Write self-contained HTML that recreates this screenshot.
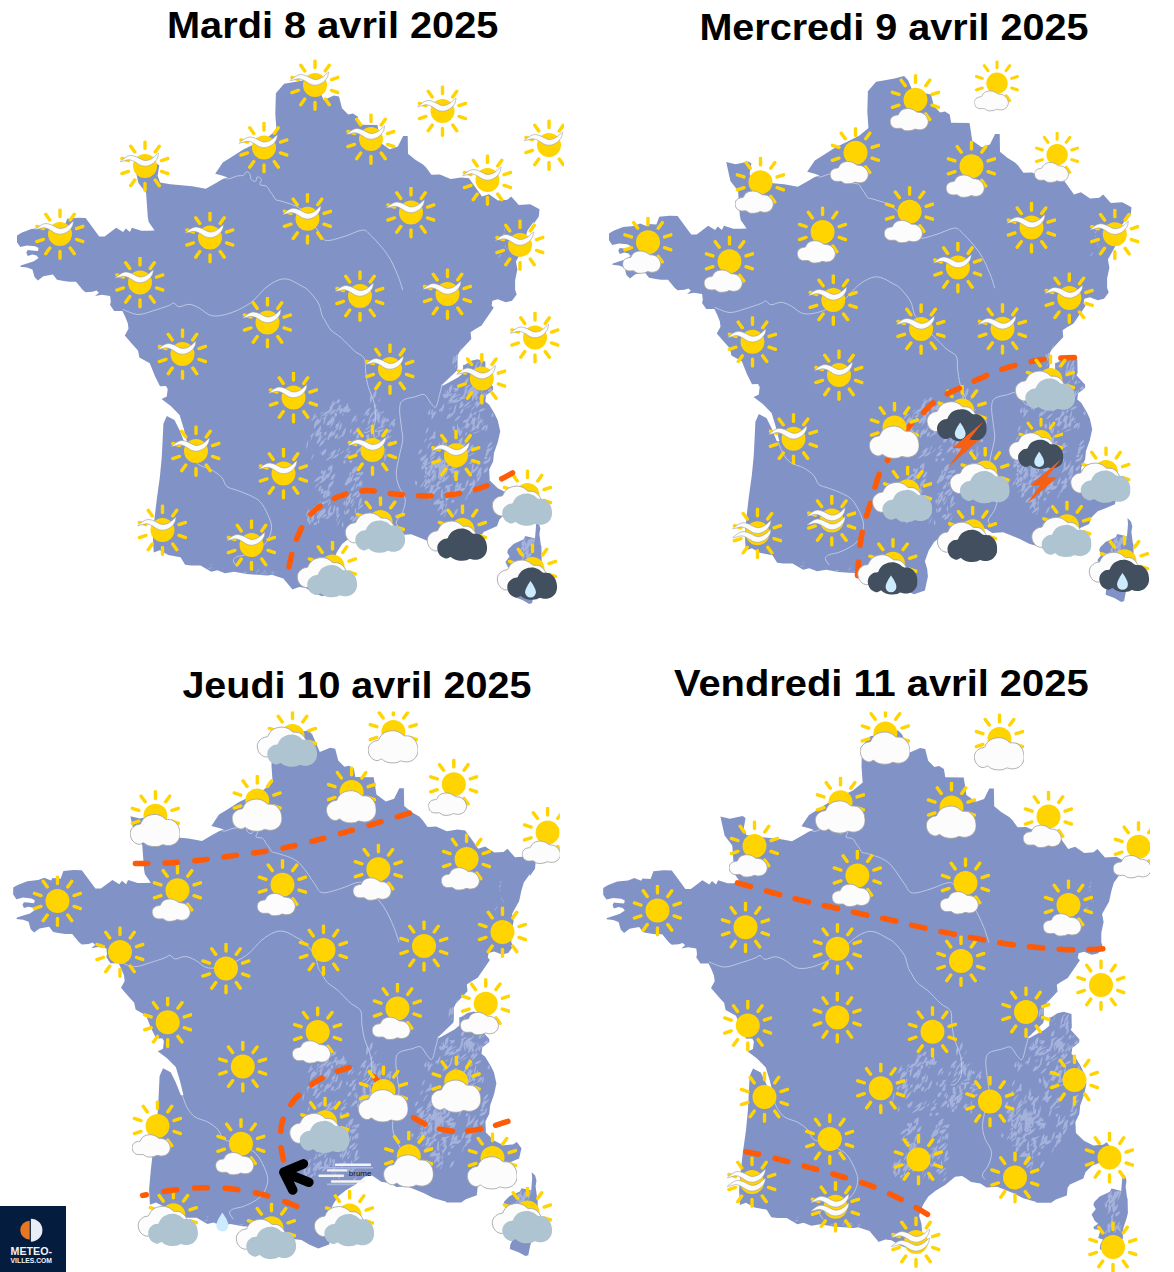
<!DOCTYPE html><html lang="fr"><head><meta charset="utf-8"><title>Prévisions</title><style>html,body{margin:0;padding:0;background:#fff}svg{display:block}text{font-family:"Liberation Sans",Arial,sans-serif}</style></head><body><svg width="1174" height="1272" viewBox="0 0 1174 1272"><defs><clipPath id="ci"><rect x="-25.5" y="-25.5" width="50" height="62"/></clipPath><clipPath id="cw"><rect x="-37" y="-25.5" width="61.5" height="62"/></clipPath><g id="fr"><path d="M868.5 128.1 L859.1 135.7 L847.2 141.7 L835.3 147.6 L821.6 156.2 L814.8 160.4 L807.2 171.8 L814.8 173.7 L819.6 175.4 L814.8 177.1 L808.0 180.9 L797.8 186.8 L784.2 184.3 L762.4 182.3 L752.1 180.6 L749.6 173.8 L751.3 163.6 L751.8 163.8 L748.4 161.6 L735.6 164.3 L726.2 162.1 L730.4 180.9 L738.1 191.1 L739.8 215.0 L740.7 220.1 L746.6 228.6 L740.3 228.7 L733.4 228.7 L723.9 225.7 L721.9 230.0 L717.8 226.6 L715.1 230.0 L708.2 225.7 L696.7 234.4 L691.2 234.4 L677.6 216.1 L669.4 215.7 L659.2 216.7 L656.4 224.6 L648.3 223.9 L646.9 226.2 L640.1 223.5 L634.0 225.9 L623.1 227.0 L613.5 230.7 L609.0 233.4 L609.0 240.3 L612.2 245.0 L619.0 243.4 L627.1 244.3 L630.6 246.1 L629.9 249.1 L623.7 248.4 L619.7 248.0 L618.3 250.5 L619.7 253.9 L624.4 252.5 L628.5 253.5 L630.6 255.9 L625.8 259.3 L619.0 261.4 L612.8 263.4 L612.2 264.8 L619.0 265.5 L624.4 267.5 L626.5 275.0 L629.9 278.4 L635.3 274.3 L644.9 272.6 L649.0 277.7 L655.8 279.1 L661.2 279.8 L668.0 279.8 L674.8 288.0 L677.6 290.3 L684.4 289.7 L688.5 288.4 L690.9 290.7 L687.1 294.1 L693.9 292.7 L702.1 294.1 L702.8 299.5 L702.1 302.9 L706.2 309.1 L714.4 309.1 L717.1 314.5 L719.8 321.3 L720.5 326.8 L716.8 333.6 L723.9 341.8 L730.0 348.6 L731.4 355.4 L741.8 361.3 L746.9 374.1 L752.0 384.3 L758.0 384.0 L759.7 386.9 L758.8 394.5 L753.7 397.1 L752.5 396.2 L762.8 404.1 L771.6 412.9 L775.5 425.7 L779.3 441.0 L776.7 441.0 L771.6 428.3 L766.5 418.0 L758.8 414.1 L755.4 421.8 L754.6 438.8 L753.7 455.9 L751.8 475.4 L748.8 496.9 L746.5 516.8 L744.9 535.2 L745.7 550.6 L751.8 548.3 L760.3 552.9 L772.5 555.2 L777.1 562.8 L783.3 563.6 L792.5 563.6 L803.2 569.7 L809.3 568.2 L817.0 571.3 L826.2 569.7 L838.5 572.0 L849.2 572.8 L859.9 573.6 L863.8 572.8 L875.3 576.6 L884.5 587.4 L884.2 587.4 L891.1 585.1 L897.3 585.8 L904.9 590.4 L914.1 594.3 L924.9 590.4 L927.9 576.6 L927.2 569.0 L924.9 561.3 L928.7 550.6 L934.1 542.1 L941.7 536.0 L950.9 530.6 L960.9 522.2 L967.8 521.4 L971.6 523.7 L977.0 527.6 L986.2 529.1 L992.3 532.9 L1003.1 532.2 L1010.7 535.2 L1019.9 539.1 L1029.1 543.7 L1042.2 547.5 L1042.0 548.2 L1056.9 548.2 L1061.6 545.0 L1072.6 541.1 L1073.4 533.3 L1075.7 530.1 L1089.1 523.9 L1091.4 517.6 L1097.7 511.3 L1105.5 508.2 L1114.9 504.3 L1117.3 494.1 L1112.6 487.8 L1108.7 490.2 L1099.2 491.0 L1089.8 486.3 L1081.7 478.4 L1081.2 467.4 L1085.1 459.6 L1085.9 451.8 L1085.9 451.3 L1089.8 440.3 L1092.2 429.3 L1089.8 418.4 L1086.7 412.1 L1081.2 402.7 L1077.3 399.5 L1078.1 393.3 L1081.2 390.9 L1085.1 387.8 L1085.1 384.7 L1076.5 375.2 L1077.6 372.9 L1077.3 359.6 L1069.5 357.2 L1063.2 358.8 L1056.9 362.7 L1055.1 363.0 L1055.1 371.2 L1050.3 375.3 L1035.3 383.5 L1033.3 383.5 L1049.0 368.5 L1049.6 365.8 L1049.6 353.5 L1051.7 349.4 L1063.3 337.1 L1062.6 330.3 L1066.7 327.6 L1073.5 323.5 L1085.7 305.8 L1083.6 303.4 L1084.4 298.7 L1089.8 297.2 L1097.7 300.3 L1104.0 298.7 L1108.7 292.5 L1107.1 287.8 L1107.1 278.4 L1109.4 267.4 L1107.9 259.5 L1114.9 247.0 L1117.3 236.0 L1119.6 228.2 L1125.9 219.6 L1125.4 222.2 L1130.8 214.5 L1131.5 207.2 L1122.3 202.3 L1110.8 203.0 L1103.2 194.6 L1099.3 197.7 L1090.1 198.4 L1080.9 192.3 L1074.0 194.6 L1067.9 185.9 L1061.0 176.2 L1053.3 175.4 L1042.6 177.0 L1031.9 172.4 L1023.4 172.8 L1018.1 165.5 L1015.0 162.4 L1007.3 157.8 L1000.0 151.7 L999.7 134.0 L995.1 134.0 L989.9 144.5 L981.7 147.2 L972.2 140.4 L970.8 130.9 L969.5 123.0 L951.1 122.7 L949.7 114.5 L944.9 111.5 L940.2 112.5 L934.0 106.3 L934.8 109.4 L931.0 94.6 L925.9 93.5 L915.6 97.9 L908.1 80.2 L904.1 76.1 L894.5 78.4 L885.0 80.2 L876.1 81.8 L867.9 91.3 L867.3 111.8 L868.6 130.2ZM1127.5 518.0 L1130.9 521.4 L1132.3 526.2 L1131.4 532.0 L1132.8 542.7 L1133.4 544.2 L1133.7 558.4 L1132.2 564.6 L1129.0 574.0 L1128.7 583.4 L1126.0 591.3 L1124.1 601.0 L1121.2 601.9 L1114.4 598.1 L1105.6 594.7 L1106.1 590.3 L1108.7 585.0 L1104.0 583.4 L1106.3 575.6 L1100.0 574.8 L1099.2 572.5 L1104.0 569.3 L1100.5 566.2 L1097.4 559.9 L1101.6 554.4 L1099.2 550.5 L1100.0 547.4 L1105.5 541.9 L1115.7 537.2 L1117.3 534.1 L1127.5 536.4 L1127.0 535.9 L1128.0 524.3Z" fill="#8192c6"/><path d="M946.0 453.4q6.6 -4.1 6.9 -8.0q-3.8 1.0 -6.9 8.0zM951.6 449.9q1.8 -0.8 1.3 -3.4q-2.2 1.9 -1.3 3.4zM953.0 449.6q3.7 -4.0 4.7 -8.2q-2.5 2.0 -4.7 8.2zM961.6 449.5q4.9 -1.5 7.1 -8.3q-7.2 4.3 -7.1 8.3zM956.7 444.2q4.0 -1.0 2.7 -4.2q-4.4 1.5 -2.7 4.2zM956.7 447.5q1.9 -1.0 2.5 -3.9q-2.2 1.6 -2.5 3.9zM956.0 454.8q3.7 -2.1 3.8 -4.7q-3.1 1.4 -3.8 4.7zM924.9 433.9q3.1 -1.9 2.7 -5.9q-3.1 1.7 -2.7 5.9zM928.2 427.3q2.7 -3.2 4.3 -9.8q-3.9 6.0 -4.3 9.8zM921.2 426.5q3.9 -3.4 5.5 -8.6q-4.2 3.9 -5.5 8.6zM972.5 423.6q2.5 -1.0 4.2 -4.6q-3.4 1.9 -4.2 4.6zM973.4 425.4q3.3 -2.4 2.5 -7.8q-3.5 3.1 -2.5 7.8zM974.9 422.2q3.4 -1.0 2.8 -7.5q-4.4 3.6 -2.8 7.5zM927.0 415.1q3.5 -1.9 1.2 -4.9q-3.3 0.8 -1.2 4.9zM931.6 411.8q2.2 -0.1 2.1 -3.3q-3.0 1.4 -2.1 3.3zM931.7 412.4q4.3 -3.1 2.6 -7.0q-3.8 1.8 -2.6 7.0zM921.2 434.7q2.5 -1.0 3.6 -6.3q-2.8 1.6 -3.6 6.3zM923.7 422.8q4.0 -4.4 3.0 -8.8q-4.1 4.8 -3.0 8.8zM927.0 426.2q4.0 -0.7 4.4 -3.5q-3.8 0.6 -4.4 3.5zM919.8 438.2q2.4 -0.4 1.5 -3.3q-2.7 1.1 -1.5 3.3zM918.4 423.4q4.3 -1.0 5.5 -6.3q-5.1 1.9 -5.5 6.3zM921.7 423.1q4.6 -6.2 3.3 -9.5q-4.6 6.1 -3.3 9.5zM927.8 425.5q4.1 -1.4 2.6 -4.0q-3.5 0.5 -2.6 4.0zM958.4 439.4q3.6 -2.7 2.5 -5.2q-2.8 1.1 -2.5 5.2zM963.0 447.8q2.8 -1.1 1.0 -4.7q-3.1 2.4 -1.0 4.7zM958.0 457.8q3.1 -0.1 2.1 -4.3q-4.0 1.9 -2.1 4.3zM956.1 448.3q1.9 -2.5 2.6 -8.1q-2.6 4.6 -2.6 8.1zM962.3 445.5q6.6 -4.0 6.6 -8.3q-6.0 3.3 -6.6 8.3zM951.7 445.1q3.2 -3.3 1.7 -5.4q-2.6 1.6 -1.7 5.4zM959.7 446.7q3.7 -1.6 3.8 -5.4q-3.5 1.4 -3.8 5.4zM911.8 421.0q1.6 -2.8 2.4 -9.9q-2.2 5.1 -2.4 9.9zM909.9 422.2q1.9 -2.2 0.2 -6.3q-1.9 2.4 -0.2 6.3zM905.9 427.0q4.6 -4.6 3.6 -10.1q-4.0 2.9 -3.6 10.1zM915.6 423.1q2.7 -3.8 2.2 -10.7q-3.0 4.8 -2.2 10.7zM908.2 441.8q3.3 -0.4 5.0 -5.1q-3.9 1.0 -5.0 5.1zM910.9 444.8q4.3 -1.5 6.2 -7.6q-4.9 2.3 -6.2 7.6zM912.6 440.6q3.1 -1.1 8.3 -6.0q-3.8 1.6 -8.3 6.0zM902.6 439.5q2.0 -3.4 2.6 -8.6q-2.4 4.8 -2.6 8.6zM908.9 439.0q4.8 -2.2 6.9 -5.2q-3.1 0.9 -6.9 5.2zM908.3 434.9q5.8 -2.3 5.7 -5.5q-4.9 1.5 -5.7 5.5zM976.8 459.8q1.6 -2.2 0.4 -9.2q-1.8 5.8 -0.4 9.2zM971.5 454.0q2.4 -3.3 0.0 -4.7q-2.4 3.5 -0.0 4.7zM976.5 452.9q1.7 -4.5 1.1 -7.5q-1.4 2.7 -1.1 7.5zM977.1 457.2q2.2 -2.4 2.7 -6.1q-2.3 2.6 -2.7 6.1zM953.1 453.5q2.7 -1.3 1.4 -4.4q-2.5 0.8 -1.4 4.4zM961.3 454.6q2.0 -0.5 1.7 -4.0q-2.0 0.4 -1.7 4.0zM948.3 452.7q3.3 -2.3 3.5 -5.7q-3.1 2.0 -3.5 5.7zM985.3 425.2q3.2 -2.6 0.6 -5.6q-3.1 1.7 -0.6 5.6zM981.1 425.4q4.8 -5.5 4.8 -8.5q-4.4 4.8 -4.8 8.5zM985.9 419.9q2.2 -1.3 1.2 -3.4q-1.9 0.4 -1.2 3.4zM977.0 439.8q3.0 -5.0 3.5 -8.8q-1.9 2.1 -3.5 8.8zM976.8 437.6q3.0 -0.0 7.6 -4.0q-6.2 1.8 -7.6 4.0zM973.0 426.7q2.8 -0.7 4.5 -4.2q-3.4 1.3 -4.5 4.2zM980.3 430.4q3.7 0.1 3.2 -3.2q-4.0 0.2 -3.2 3.2zM970.0 435.3q3.3 -2.7 2.1 -7.5q-3.0 1.6 -2.1 7.5zM975.9 434.8q3.3 0.1 2.2 -3.1q-3.6 0.3 -2.2 3.1zM980.6 442.5q3.8 -0.6 2.4 -3.2q-3.4 -0.1 -2.4 3.2zM977.2 440.0q3.6 -4.8 4.0 -7.6q-2.5 2.7 -4.0 7.6zM973.4 440.6q1.1 -1.8 0.4 -3.9q-1.2 2.6 -0.4 3.9zM914.9 452.3q1.4 -1.5 1.4 -4.8q-1.3 1.1 -1.4 4.8zM903.5 458.2q2.6 -3.7 1.9 -6.7q-2.6 3.7 -1.9 6.7zM913.7 453.9q5.1 -2.5 4.6 -7.2q-4.6 1.8 -4.6 7.2zM911.7 452.5q3.2 -1.6 4.8 -4.5q-4.2 2.6 -4.8 4.5zM944.2 418.6q4.4 -1.6 4.5 -5.4q-4.0 1.2 -4.5 5.4zM943.2 421.4q4.6 -3.6 5.4 -8.1q-5.2 4.6 -5.4 8.1zM947.0 420.5q3.0 -2.3 2.5 -4.2q-2.8 2.0 -2.5 4.2zM960.1 440.0q2.6 -5.7 0.2 -8.2q-2.5 3.2 -0.2 8.2zM962.7 434.6q1.8 -1.5 1.9 -4.8q-1.6 1.0 -1.9 4.8zM965.1 434.4q1.6 -0.9 0.8 -4.0q-1.8 1.6 -0.8 4.0zM965.9 438.6q2.5 -0.7 0.6 -3.9q-2.6 1.0 -0.6 3.9zM963.4 444.4q3.6 -1.7 2.5 -5.3q-4.0 2.6 -2.5 5.3zM966.4 437.6q1.3 -5.3 -0.8 -7.8q-1.4 4.7 0.8 7.8zM958.2 413.9q2.7 0.1 3.2 -3.2q-2.2 -0.5 -3.2 3.2zM955.8 413.7q5.3 -2.0 7.1 -8.1q-4.7 1.3 -7.1 8.1zM961.8 415.9q2.4 -1.5 4.1 -6.2q-2.7 2.0 -4.1 6.2zM964.1 419.6q3.8 0.0 4.5 -3.1q-2.7 -0.8 -4.5 3.1zM969.7 429.4q4.6 0.5 6.4 -2.0q-5.2 -0.3 -6.4 2.0zM965.3 418.0q4.8 -2.4 6.3 -4.9q-3.6 1.4 -6.3 4.9zM976.8 430.5q3.7 2.0 6.9 -1.6q-3.1 -2.1 -6.9 1.6zM968.3 426.9q5.1 -0.2 7.2 -2.8q-3.3 -0.5 -7.2 2.8zM965.7 429.5q4.6 1.9 9.8 -0.7q-3.3 -2.0 -9.8 0.7zM966.6 429.3q1.7 0.1 2.7 -2.7q-2.5 0.7 -2.7 2.7zM963.8 421.3q3.1 -3.9 3.7 -7.8q-3.1 3.9 -3.7 7.8zM970.6 418.6q2.7 -3.4 1.5 -7.2q-2.8 3.9 -1.5 7.2zM965.9 413.3q4.5 -2.3 3.7 -6.9q-3.6 0.6 -3.7 6.9zM972.6 422.3q2.6 -2.8 3.6 -8.5q-2.2 1.7 -3.6 8.5zM970.1 420.1q3.0 -4.5 0.2 -10.0q-3.0 7.3 -0.2 10.0zM978.6 420.1q3.3 -0.5 1.5 -3.9q-3.4 0.6 -1.5 3.9zM971.3 422.0q1.3 -4.3 -1.5 -7.9q-1.6 2.7 1.5 7.9zM904.5 419.0q3.0 -2.3 3.2 -8.5q-3.8 4.3 -3.2 8.5zM906.8 423.5q4.4 0.1 6.5 -5.7q-3.9 -0.5 -6.5 5.7zM901.8 418.9q6.3 -2.9 7.9 -5.2q-2.9 0.6 -7.9 5.2zM931.1 408.8q2.6 -4.4 0.8 -6.6q-2.3 2.4 -0.8 6.6zM934.1 414.2q2.0 -1.1 1.9 -3.2q-2.0 1.2 -1.9 3.2zM934.5 410.3q4.3 -3.0 3.9 -6.9q-4.4 3.1 -3.9 6.9zM938.8 410.9q4.2 -0.9 3.7 -4.6q-4.7 1.6 -3.7 4.6zM927.2 410.1q3.4 -0.9 6.7 -7.2q-3.7 1.2 -6.7 7.2zM935.9 410.7q3.5 -0.9 2.3 -3.6q-3.6 1.0 -2.3 3.6zM939.1 411.2q3.0 -5.8 0.1 -10.4q-3.0 7.6 -0.1 10.4zM926.1 429.2q4.8 -2.2 5.7 -4.0q-4.7 2.2 -5.7 4.0zM931.6 429.2q3.3 -6.0 1.9 -8.9q-3.1 5.0 -1.9 8.9zM933.7 435.5q3.8 -2.5 4.5 -10.0q-4.2 3.2 -4.5 10.0zM957.0 447.5q3.4 -0.9 6.3 -3.9q-2.8 0.6 -6.3 3.9zM955.4 449.9q4.5 -1.4 4.0 -5.9q-4.2 0.9 -4.0 5.9zM957.7 452.6q3.0 0.1 3.3 -5.2q-4.3 1.9 -3.3 5.2zM955.7 451.7q2.6 -0.3 3.6 -5.2q-2.9 0.7 -3.6 5.2zM960.1 455.0q2.4 -1.7 3.8 -5.9q-3.7 3.7 -3.8 5.9zM954.5 447.2q5.0 -2.1 7.0 -6.2q-6.1 3.0 -7.0 6.2zM957.2 445.5q4.9 -5.0 4.8 -8.4q-2.8 1.3 -4.8 8.4zM949.9 442.7q2.3 -1.2 2.7 -5.4q-3.2 2.9 -2.7 5.4zM959.4 443.4q2.0 -0.3 2.0 -4.1q-2.6 1.6 -2.0 4.1zM970.9 452.2q3.3 -0.9 4.2 -2.6q-3.6 1.1 -4.2 2.6zM963.3 449.0q4.4 -1.8 2.7 -4.5q-3.2 -0.2 -2.7 4.5zM969.3 454.1q3.2 -0.4 3.4 -5.3q-3.9 1.4 -3.4 5.3zM960.0 420.5q2.2 -2.1 4.3 -9.9q-2.2 2.0 -4.3 9.9zM958.7 421.0q2.4 -0.3 7.1 -4.6q-3.1 0.8 -7.1 4.6zM956.8 428.7q5.3 -2.5 7.4 -6.0q-6.0 3.1 -7.4 6.0zM959.3 423.8q2.1 -1.2 3.6 -5.7q-3.5 3.4 -3.6 5.7zM953.6 421.8q3.8 -2.7 3.6 -5.3q-3.4 2.0 -3.6 5.3zM959.4 438.0q1.9 -3.9 -0.2 -5.7q-2.0 1.9 0.2 5.7zM965.0 439.9q3.2 -2.3 4.5 -6.3q-2.3 1.0 -4.5 6.3zM962.6 444.1q3.5 -1.5 3.8 -3.9q-3.4 1.4 -3.8 3.9zM917.2 459.0q6.8 -2.5 8.2 -5.8q-3.8 0.5 -8.2 5.8zM923.9 456.5q3.1 0.5 7.7 -4.8q-3.2 -0.5 -7.7 4.8zM923.0 451.9q4.7 -1.6 6.7 -4.3q-4.3 1.4 -6.7 4.3zM920.4 453.8q3.0 -1.1 7.9 -7.1q-5.4 3.3 -7.9 7.1zM922.2 456.4q3.6 -1.0 5.9 -8.3q-5.3 3.4 -5.9 8.3zM964.2 421.7q3.3 -3.1 3.1 -6.5q-3.8 4.0 -3.1 6.5zM971.1 412.7q4.8 -2.2 5.5 -4.3q-3.9 1.5 -5.5 4.3zM962.4 416.3q3.5 -4.1 4.7 -9.2q-4.5 6.1 -4.7 9.2zM967.9 414.3q3.7 -1.5 4.0 -5.4q-4.6 2.7 -4.0 5.4zM967.0 417.2q3.2 -1.1 3.7 -3.9q-2.4 0.3 -3.7 3.9zM935.7 462.0q3.0 -0.8 1.6 -4.1q-2.8 0.3 -1.6 4.1zM929.2 452.2q3.2 -4.9 3.1 -7.2q-2.3 2.8 -3.1 7.2zM932.4 452.5q1.9 -0.5 4.0 -4.4q-3.3 1.9 -4.0 4.4zM939.8 450.8q2.0 0.6 3.4 -2.1q-3.2 0.2 -3.4 2.1zM938.1 449.5q2.1 -0.6 4.0 -5.3q-3.2 2.0 -4.0 5.3zM936.1 456.5q5.9 -1.2 5.6 -4.7q-4.6 0.1 -5.6 4.7zM941.1 460.6q3.4 1.3 3.4 -2.3q-3.3 -1.4 -3.4 2.3zM929.3 437.5q3.0 -1.0 6.2 -5.7q-5.1 3.0 -6.2 5.7zM921.8 435.3q4.1 -1.2 3.3 -4.8q-3.5 0.4 -3.3 4.8zM916.0 433.6q3.1 -0.7 2.6 -4.0q-3.0 0.6 -2.6 4.0zM920.0 435.3q4.8 -3.8 4.4 -6.6q-4.4 3.2 -4.4 6.6zM919.6 436.6q3.9 -2.4 5.7 -6.8q-4.5 3.1 -5.7 6.8zM927.2 437.0q3.9 -1.8 2.4 -5.2q-3.9 2.0 -2.4 5.2zM947.7 431.7q4.3 -3.9 2.4 -6.7q-3.5 1.7 -2.4 6.7zM943.2 442.4q3.6 0.3 4.3 -5.0q-4.7 1.0 -4.3 5.0zM949.7 436.3q3.1 -1.0 0.5 -3.5q-3.2 1.9 -0.5 3.5zM944.9 432.8q3.8 -0.6 4.0 -4.5q-4.3 1.1 -4.0 4.5zM942.3 431.2q2.2 -0.7 1.2 -4.5q-2.6 2.5 -1.2 4.5zM947.8 429.2q2.6 -0.8 5.2 -4.8q-4.6 2.7 -5.2 4.8zM948.1 437.6q3.7 -3.1 3.7 -9.0q-4.2 4.3 -3.7 9.0zM918.4 423.3q3.0 0.7 5.5 -3.1q-2.7 -0.9 -5.5 3.1zM913.8 414.1q5.4 -0.3 7.4 -5.0q-3.4 -1.0 -7.4 5.0zM912.1 412.1q2.1 0.1 4.0 -2.9q-3.5 0.9 -4.0 2.9zM921.3 413.3q5.4 -1.9 6.7 -6.4q-4.9 1.4 -6.7 6.4zM919.4 412.1q4.3 -1.5 5.9 -8.5q-5.6 3.4 -5.9 8.5zM914.1 417.2q4.0 0.6 4.7 -1.8q-2.3 -1.3 -4.7 1.8zM917.0 415.0q2.9 -0.8 3.0 -2.5q-2.2 0.1 -3.0 2.5zM969.6 401.0q2.5 -2.1 3.6 -5.5q-3.1 3.0 -3.6 5.5zM965.5 397.5q4.4 -5.6 2.5 -9.7q-3.9 3.7 -2.5 9.7zM962.4 401.4q3.0 -4.4 1.2 -10.0q-2.8 3.2 -1.2 10.0zM966.7 406.7q2.8 -2.7 1.2 -4.8q-2.5 1.6 -1.2 4.8zM907.7 435.0q4.5 -4.3 2.8 -8.3q-4.4 4.1 -2.8 8.3zM909.8 433.0q4.4 -6.1 3.0 -9.8q-3.8 4.1 -3.0 9.8zM898.5 447.5q2.3 -5.1 1.6 -10.0q-2.5 6.7 -1.6 10.0zM902.3 435.1q3.7 -1.3 4.6 -4.8q-4.6 2.3 -4.6 4.8zM909.8 440.0q2.9 -1.7 3.8 -8.5q-4.0 4.1 -3.8 8.5zM923.2 403.6q2.8 0.8 4.7 -3.4q-3.8 -0.2 -4.7 3.4zM921.0 406.3q3.6 -0.1 7.8 -6.8q-5.4 1.8 -7.8 6.8zM922.1 402.6q3.6 -2.1 4.9 -4.8q-2.6 1.0 -4.9 4.8zM928.2 401.4q3.6 0.4 4.1 -4.1q-3.2 -0.8 -4.1 4.1zM921.0 409.0q3.4 0.2 3.9 -3.3q-2.7 -0.8 -3.9 3.3zM941.7 475.3q2.6 -3.6 1.2 -5.7q-2.4 2.6 -1.2 5.7zM940.0 481.7q4.2 -1.1 4.2 -6.0q-3.7 0.5 -4.2 6.0zM943.2 474.9q3.2 -2.3 3.8 -4.6q-2.5 1.5 -3.8 4.6zM945.2 484.8q1.8 -0.5 2.0 -3.0q-2.0 0.9 -2.0 3.0zM939.6 480.3q3.0 0.3 5.2 -2.3q-2.5 -0.5 -5.2 2.3zM946.7 480.5q5.8 -3.6 5.7 -6.6q-4.5 2.2 -5.7 6.6zM918.4 491.2q3.7 -4.4 3.9 -7.2q-2.7 2.6 -3.9 7.2zM920.0 485.9q4.3 -0.5 6.3 -7.6q-6.3 2.9 -6.3 7.6zM916.8 493.7q1.7 -2.2 1.1 -5.5q-2.0 3.7 -1.1 5.5zM915.9 495.9q2.6 -2.6 2.2 -7.8q-2.4 1.6 -2.2 7.8zM915.5 496.5q2.3 -2.6 0.7 -5.3q-2.3 2.4 -0.7 5.3zM949.5 515.3q1.6 0.3 2.7 -2.4q-2.2 0.2 -2.7 2.4zM948.7 527.1q2.3 -0.1 3.7 -4.6q-3.5 1.7 -3.7 4.6zM946.3 519.4q3.1 -5.4 2.9 -8.2q-2.7 4.3 -2.9 8.2zM947.5 511.7q1.6 -2.8 -0.1 -6.1q-1.5 3.9 0.1 6.1zM942.3 518.0q4.5 -0.9 3.4 -4.1q-4.4 0.8 -3.4 4.1zM943.9 519.8q4.4 -0.1 6.8 -6.1q-5.9 1.4 -6.8 6.1zM948.5 522.7q2.4 -1.8 5.0 -7.1q-3.9 3.9 -5.0 7.1zM952.7 485.7q2.2 -3.2 1.5 -7.8q-2.2 2.9 -1.5 7.8zM943.1 477.3q2.2 -1.6 2.6 -3.8q-1.7 0.9 -2.6 3.8zM944.8 485.6q2.7 -1.9 2.7 -4.5q-2.6 1.7 -2.7 4.5zM919.6 511.5q3.5 -2.3 4.2 -8.8q-3.9 3.2 -4.2 8.8zM910.8 518.0q4.2 -4.3 3.6 -8.8q-4.1 4.2 -3.6 8.8zM909.0 507.6q2.0 -2.2 4.3 -10.0q-2.3 3.0 -4.3 10.0zM909.7 517.4q2.3 -2.6 0.5 -4.9q-2.3 2.9 -0.5 4.9zM899.6 515.5q2.9 -3.8 2.7 -7.1q-2.3 2.3 -2.7 7.1zM903.8 521.3q1.7 -2.4 0.5 -8.3q-1.7 3.0 -0.5 8.3zM898.1 514.7q2.3 -3.7 3.0 -9.1q-3.2 6.4 -3.0 9.1zM901.6 513.6q4.0 -1.2 5.4 -9.5q-6.5 5.6 -5.4 9.5zM901.0 522.8q2.5 -1.0 1.9 -5.1q-2.7 1.7 -1.9 5.1zM910.8 521.9q1.4 -3.3 -0.5 -4.7q-1.3 3.4 0.5 4.7zM942.6 502.4q3.6 -3.2 2.9 -6.6q-3.7 3.4 -2.9 6.6zM939.4 504.0q3.4 -5.9 3.2 -10.5q-3.8 7.2 -3.2 10.5zM949.4 507.7q5.3 -2.3 6.1 -5.8q-5.5 2.5 -6.1 5.8zM950.3 505.6q4.6 -6.0 3.2 -10.2q-3.4 2.1 -3.2 10.2zM944.0 495.2q4.9 -1.1 7.8 -7.1q-6.7 2.7 -7.8 7.1zM920.3 514.5q3.0 -3.3 1.4 -7.1q-2.6 1.5 -1.4 7.1zM928.8 509.6q3.1 -1.4 0.9 -4.8q-3.2 1.4 -0.9 4.8zM925.8 511.4q2.6 -5.7 0.7 -8.5q-2.4 4.0 -0.7 8.5zM924.5 512.9q1.6 -1.4 1.1 -4.3q-1.9 2.4 -1.1 4.3zM950.4 485.3q2.8 -1.1 2.6 -7.0q-3.6 3.3 -2.6 7.0zM947.8 486.4q2.8 -3.2 2.5 -5.2q-2.0 1.4 -2.5 5.2zM947.7 487.4q2.0 -3.9 1.3 -6.2q-1.8 3.0 -1.3 6.2zM950.9 484.1q2.5 -1.0 2.4 -3.5q-2.0 0.2 -2.4 3.5zM943.3 506.6q3.0 -4.4 4.5 -9.8q-3.6 5.7 -4.5 9.8zM938.0 507.1q1.6 -5.8 0.8 -10.9q-1.6 6.1 -0.8 10.9zM936.1 503.7q2.7 -2.0 0.8 -4.9q-2.7 2.1 -0.8 4.9zM938.0 512.6q4.1 -1.4 3.2 -5.8q-4.2 1.6 -3.2 5.8zM937.1 513.5q1.0 -2.9 -0.8 -5.4q-1.1 2.2 0.8 5.4zM910.0 513.4q3.7 0.1 8.4 -6.3q-5.3 1.1 -8.4 6.3zM913.4 502.1q2.3 0.6 2.9 -2.7q-2.7 -0.2 -2.9 2.7zM913.5 512.3q3.3 -0.9 3.2 -6.4q-4.6 3.5 -3.2 6.4zM913.7 503.1q7.2 -3.3 8.7 -6.4q-6.8 3.0 -8.7 6.4zM908.9 511.5q2.6 -1.0 2.4 -3.3q-2.9 1.4 -2.4 3.3zM910.5 505.3q2.6 -1.1 2.9 -3.8q-2.4 0.8 -2.9 3.8zM906.0 486.5q3.2 -1.9 6.8 -7.5q-5.0 3.9 -6.8 7.5zM910.6 490.1q3.4 -2.3 2.4 -6.7q-3.1 1.5 -2.4 6.7zM911.3 491.7q5.1 0.1 10.1 -3.2q-4.4 -0.3 -10.1 3.2zM913.0 490.8q3.9 -2.1 1.9 -4.4q-3.0 0.1 -1.9 4.4zM919.1 476.4q3.8 -2.3 2.7 -5.3q-3.0 0.7 -2.7 5.3zM922.9 478.1q3.5 -0.3 4.6 -6.9q-5.3 2.9 -4.6 6.9zM921.4 473.3q3.7 -4.6 3.0 -8.7q-3.5 4.0 -3.0 8.7zM919.8 468.8q5.1 -1.8 4.8 -6.0q-5.6 2.4 -4.8 6.0zM915.8 478.0q4.9 -2.8 4.7 -7.0q-5.6 3.8 -4.7 7.0zM917.3 517.3q4.1 -0.3 4.6 -3.3q-3.2 -0.4 -4.6 3.3zM913.5 516.1q4.5 -0.7 5.7 -4.2q-3.4 -0.1 -5.7 4.2zM913.1 514.4q5.2 -3.4 4.7 -6.3q-4.4 2.3 -4.7 6.3zM920.2 504.4q3.0 -3.7 2.3 -6.7q-2.8 3.0 -2.3 6.7zM928.4 525.1q2.7 -3.1 4.5 -9.2q-3.5 4.7 -4.5 9.2zM921.4 514.7q1.8 -1.2 1.6 -3.5q-1.5 0.6 -1.6 3.5zM928.7 514.8q2.4 0.6 3.3 -2.7q-3.1 -0.1 -3.3 2.7zM928.2 514.5q3.1 -4.4 2.5 -9.9q-2.7 2.5 -2.5 9.9zM928.1 520.1q1.8 -2.7 2.8 -9.4q-2.8 6.2 -2.8 9.4zM929.3 515.6q3.0 -0.5 1.6 -3.4q-3.4 1.5 -1.6 3.4zM922.1 514.8q3.2 -1.7 1.4 -5.0q-3.5 2.9 -1.4 5.0zM934.7 525.5q1.7 -1.9 -0.2 -6.0q-1.6 3.6 0.2 6.0zM936.4 483.3q4.5 -0.6 5.7 -6.3q-3.7 -0.3 -5.7 6.3zM938.3 479.0q3.8 0.4 4.9 -4.2q-3.3 -0.8 -4.9 4.2zM937.8 484.3q5.0 -4.5 4.5 -8.7q-4.3 3.3 -4.5 8.7zM939.1 480.7q3.0 0.5 2.5 -3.3q-3.8 0.5 -2.5 3.3zM937.9 498.8q4.5 -2.1 5.9 -7.9q-3.7 1.0 -5.9 7.9zM942.6 489.3q4.1 -0.6 3.8 -4.9q-3.6 -0.0 -3.8 4.9zM942.6 504.8q3.0 -1.2 3.4 -3.4q-2.4 0.6 -3.4 3.4zM936.7 495.8q2.8 -0.8 3.6 -3.5q-2.6 0.6 -3.6 3.5zM946.9 496.5q4.1 -2.1 7.2 -7.5q-3.2 1.3 -7.2 7.5zM938.0 504.2q3.9 -1.9 5.6 -9.2q-4.6 3.1 -5.6 9.2zM947.3 496.3q3.7 -0.8 5.1 -3.2q-3.3 0.6 -5.1 3.2zM913.7 479.2q3.1 -0.3 2.4 -3.8q-2.7 -0.3 -2.4 3.8zM905.8 480.0q4.5 -0.1 8.1 -5.9q-4.2 -0.1 -8.1 5.9zM911.6 481.0q3.7 0.2 7.1 -4.7q-5.3 0.8 -7.1 4.7zM913.3 477.0q3.7 -1.0 2.1 -3.8q-3.7 1.0 -2.1 3.8zM914.5 474.6q3.5 -0.7 3.4 -6.5q-3.8 1.4 -3.4 6.5zM913.5 471.9q3.1 -2.0 1.1 -3.9q-2.9 1.5 -1.1 3.9zM951.0 473.8q4.1 -0.1 4.5 -4.0q-3.5 -0.5 -4.5 4.0zM942.6 476.2q2.9 -0.9 3.4 -2.9q-2.0 0.1 -3.4 2.9zM944.7 478.4q5.8 -0.1 7.4 -4.0q-5.8 0.1 -7.4 4.0zM947.2 473.6q4.7 -0.9 5.4 -3.4q-3.4 0.1 -5.4 3.4zM943.8 469.2q3.8 0.2 6.1 -4.9q-3.9 -0.2 -6.1 4.9zM943.4 471.2q4.7 0.1 5.4 -3.9q-3.8 -0.8 -5.4 3.9zM918.3 495.7q4.0 -3.4 2.5 -7.7q-3.4 1.5 -2.5 7.7zM917.5 495.6q3.6 -1.2 6.1 -4.0q-2.2 0.4 -6.1 4.0zM916.2 496.6q3.2 -0.7 7.2 -7.6q-3.7 1.2 -7.2 7.6zM905.7 523.3q2.9 0.2 3.8 -3.9q-4.2 1.2 -3.8 3.9zM900.9 516.7q3.2 -3.9 0.4 -8.9q-3.2 4.4 -0.4 8.9zM904.0 520.3q2.6 -1.8 2.3 -9.1q-3.0 3.1 -2.3 9.1zM908.1 516.1q6.1 -3.9 6.9 -8.4q-3.5 0.7 -6.9 8.4zM900.5 517.0q4.0 -5.2 2.1 -9.6q-3.7 4.0 -2.1 9.6zM900.5 520.7q2.4 -3.8 -0.3 -5.1q-2.6 1.9 0.3 5.1zM900.0 517.5q2.7 -3.9 1.0 -6.9q-2.5 2.4 -1.0 6.9zM1028.3 482.9q3.2 -0.7 4.4 -4.7q-3.5 1.0 -4.4 4.7zM1026.4 485.2q6.2 -3.1 7.4 -6.2q-6.4 3.2 -7.4 6.2zM1024.1 491.3q3.7 -1.0 4.5 -4.5q-4.4 1.8 -4.5 4.5zM1014.9 481.2q3.5 -2.6 3.8 -5.2q-3.1 2.0 -3.8 5.2zM1026.5 487.9q5.8 -0.1 6.5 -3.0q-3.7 -0.9 -6.5 3.0zM1015.7 485.5q4.2 -2.2 5.8 -9.1q-5.4 4.1 -5.8 9.1zM1061.1 414.5q2.2 -1.6 2.6 -5.1q-1.9 1.0 -2.6 5.1zM1069.9 418.5q2.5 -4.1 1.6 -6.4q-2.4 4.0 -1.6 6.4zM1065.6 413.2q2.3 -0.1 3.2 -3.9q-2.4 0.2 -3.2 3.9zM1066.2 396.0q4.7 -4.0 5.4 -8.4q-4.9 4.3 -5.4 8.4zM1064.3 396.8q1.6 -2.4 1.0 -6.0q-1.9 4.2 -1.0 6.0zM1070.5 399.2q2.5 -2.1 4.5 -9.0q-2.3 1.8 -4.5 9.0zM1028.5 464.3q4.3 -2.0 5.5 -8.7q-6.0 4.6 -5.5 8.7zM1029.4 466.8q3.0 -0.0 7.9 -5.3q-3.7 0.5 -7.9 5.3zM1030.0 464.4q5.7 -3.2 6.3 -6.8q-6.0 3.5 -6.3 6.8zM1037.6 466.2q3.6 -2.0 6.6 -7.3q-3.0 1.4 -6.6 7.3zM1033.9 462.9q3.3 -4.0 3.5 -8.0q-3.2 3.8 -3.5 8.0zM1028.8 459.4q3.4 -0.9 3.9 -6.1q-4.8 3.1 -3.9 6.1zM1012.0 458.9q4.2 -0.3 4.0 -4.4q-3.2 -0.7 -4.0 4.4zM1010.4 452.5q4.0 -2.0 3.7 -5.8q-3.7 1.7 -3.7 5.8zM1014.6 467.6q4.8 -3.9 4.3 -8.3q-3.7 1.8 -4.3 8.3zM1014.7 461.6q4.4 0.0 4.2 -3.1q-3.5 -0.7 -4.2 3.1zM1026.0 463.6q4.2 -0.8 6.0 -5.8q-4.9 1.5 -6.0 5.8zM1015.7 441.3q3.3 -3.0 3.4 -6.1q-3.4 3.1 -3.4 6.1zM1024.9 454.3q5.1 -5.6 5.6 -8.6q-3.0 2.4 -5.6 8.6zM1019.5 444.7q3.3 -1.4 5.0 -4.9q-3.7 1.8 -5.0 4.9zM1024.8 450.7q2.8 -2.3 3.6 -5.7q-3.2 3.0 -3.6 5.7zM1018.9 447.3q2.0 -1.0 3.2 -5.0q-3.2 3.1 -3.2 5.0zM1030.0 449.5q3.6 -1.5 3.0 -3.9q-3.4 1.3 -3.0 3.9zM1023.0 451.9q3.3 -1.6 5.2 -6.9q-3.4 1.8 -5.2 6.9zM1035.2 445.9q2.0 -3.4 0.3 -4.8q-1.9 1.8 -0.3 4.8zM1037.9 449.4q5.2 -1.9 5.3 -6.6q-4.1 0.5 -5.3 6.6zM1033.4 444.4q4.6 -3.3 3.7 -6.0q-4.1 2.4 -3.7 6.0zM1029.4 447.3q2.5 -2.3 3.1 -8.0q-2.7 3.0 -3.1 8.0zM1035.8 446.7q4.1 -1.2 3.2 -5.3q-3.9 0.8 -3.2 5.3zM1040.7 460.7q2.3 -2.8 0.5 -7.3q-2.4 4.9 -0.5 7.3zM1044.1 457.9q1.9 -1.8 0.8 -3.7q-2.1 2.5 -0.8 3.7zM1037.8 461.0q2.4 -1.6 3.1 -7.3q-3.4 4.0 -3.1 7.3zM1036.1 464.4q2.4 -3.8 1.2 -6.9q-2.2 2.7 -1.2 6.9zM1046.0 458.2q1.0 -4.5 0.0 -7.6q-1.0 4.0 -0.0 7.6zM1039.0 457.0q3.1 -6.7 1.4 -9.8q-2.6 3.1 -1.4 9.8zM1043.1 463.7q3.4 -2.7 2.5 -7.9q-3.9 4.2 -2.5 7.9zM1061.3 484.2q3.6 -0.2 3.1 -3.9q-4.0 0.8 -3.1 3.9zM1064.9 484.9q3.8 -2.5 2.0 -4.9q-2.9 0.3 -2.0 4.9zM1060.5 492.5q2.5 -0.2 2.6 -3.2q-2.4 0.0 -2.6 3.2zM1063.3 483.8q4.4 -1.4 4.4 -4.6q-3.6 0.6 -4.4 4.6zM1061.4 489.9q5.3 -0.8 5.8 -5.2q-5.8 1.3 -5.8 5.2zM1064.4 485.2q2.2 -2.8 1.4 -8.8q-2.6 5.1 -1.4 8.8zM1062.2 487.8q3.8 -0.4 3.9 -3.7q-4.4 1.0 -3.9 3.7zM1057.6 424.2q3.1 -1.0 2.3 -3.7q-3.1 1.0 -2.3 3.7zM1064.3 431.9q4.9 -0.8 8.3 -3.5q-6.6 1.6 -8.3 3.5zM1052.4 434.5q2.5 -5.0 1.9 -8.7q-2.3 4.0 -1.9 8.7zM1063.5 428.3q3.0 -0.3 3.7 -5.9q-3.2 0.6 -3.7 5.9zM1065.0 420.5q2.3 -0.3 3.3 -3.6q-3.2 1.3 -3.3 3.6zM1059.2 424.3q3.8 -0.5 2.8 -2.9q-2.5 -0.9 -2.8 2.9zM1057.6 433.9q2.3 -2.3 1.1 -4.0q-1.8 0.7 -1.1 4.0zM1084.3 415.3q2.5 -1.0 0.5 -4.5q-2.7 2.6 -0.5 4.5zM1027.5 491.2q3.7 -6.1 3.6 -10.1q-2.9 4.0 -3.6 10.1zM1017.4 492.9q3.0 -1.8 3.2 -3.5q-2.7 1.5 -3.2 3.5zM1017.2 487.8q2.0 -1.4 1.5 -3.5q-2.0 1.4 -1.5 3.5zM1020.9 492.6q3.9 -1.3 5.3 -9.3q-4.8 2.9 -5.3 9.3zM1022.1 496.3q3.4 -0.7 1.6 -4.0q-3.8 1.6 -1.6 4.0zM1021.7 487.4q4.7 -1.4 5.0 -5.2q-4.8 1.6 -5.0 5.2zM1075.0 397.5q2.1 -3.6 0.3 -6.2q-2.1 4.5 -0.3 6.2zM1072.3 391.4q2.2 -1.2 2.5 -3.0q-1.8 0.7 -2.5 3.0zM1074.3 384.4q3.1 -0.1 3.0 -3.9q-2.8 -0.2 -3.0 3.9zM1077.1 383.4q3.4 -0.8 3.6 -2.5q-2.1 -0.1 -3.6 2.5zM1079.7 389.7q4.5 0.2 4.4 -2.9q-4.3 -0.3 -4.4 2.9zM1034.8 492.3q3.2 -1.2 8.0 -7.1q-2.9 1.0 -8.0 7.1zM1037.1 485.6q3.0 1.5 3.9 -2.5q-3.9 -0.9 -3.9 2.5zM1036.2 486.7q4.4 -0.2 9.4 -4.9q-3.4 -0.3 -9.4 4.9zM1075.8 395.8q3.2 -3.1 3.6 -6.3q-3.7 3.9 -3.6 6.3zM1068.2 398.6q2.1 -2.2 1.2 -4.6q-2.3 2.8 -1.2 4.6zM1063.7 399.6q3.3 -2.5 3.8 -9.1q-3.7 3.6 -3.8 9.1zM1071.7 402.3q2.6 -1.3 1.0 -3.5q-2.4 0.3 -1.0 3.5zM1057.1 452.9q3.5 0.2 5.8 -5.8q-3.6 -0.2 -5.8 5.8zM1059.6 454.5q5.4 -1.6 7.3 -3.8q-5.6 1.7 -7.3 3.8zM1062.1 446.6q2.9 0.5 3.5 -3.8q-3.7 0.4 -3.5 3.8zM1054.8 458.4q2.5 -1.7 2.8 -3.9q-2.0 1.0 -2.8 3.9zM1060.3 448.2q2.9 1.3 7.9 -3.3q-5.9 -0.0 -7.9 3.3zM1077.8 454.9q3.8 -2.7 3.2 -8.9q-4.3 4.1 -3.2 8.9zM1079.7 450.4q4.7 -2.5 5.2 -5.7q-3.8 1.5 -5.2 5.7zM1078.5 450.7q4.1 -2.4 2.6 -4.9q-3.8 1.7 -2.6 4.9zM1079.0 446.3q5.0 -3.0 5.2 -6.7q-4.4 2.2 -5.2 6.7zM1063.0 393.4q2.9 -0.5 2.5 -5.9q-3.1 1.0 -2.5 5.9zM1063.3 389.4q4.0 -3.2 5.0 -7.2q-4.1 3.4 -5.0 7.2zM1064.8 391.9q2.9 -0.8 1.8 -5.5q-3.7 3.3 -1.8 5.5zM1080.8 459.7q2.7 -2.1 1.6 -6.3q-3.2 3.8 -1.6 6.3zM1076.3 462.9q4.5 -3.6 4.8 -6.1q-3.5 2.4 -4.8 6.1zM1076.0 456.7q3.4 1.7 3.5 -1.4q-2.4 -2.1 -3.5 1.4zM1075.1 461.5q4.8 0.9 7.1 -3.6q-6.2 -0.2 -7.1 3.6zM1046.3 429.1q2.2 -4.5 -1.1 -5.7q-2.2 4.1 1.1 5.7zM1052.0 434.2q1.8 -6.8 -1.4 -9.3q-1.9 6.5 1.4 9.3zM1049.6 430.7q1.2 -6.4 -0.1 -9.7q-1.2 4.1 0.1 9.7zM1039.4 467.9q7.3 -0.1 10.5 -2.5q-8.1 0.3 -10.5 2.5zM1033.9 470.3q3.6 0.8 6.5 -5.4q-6.3 1.4 -6.5 5.4zM1037.5 465.7q5.0 -1.6 6.1 -3.9q-4.5 1.3 -6.1 3.9zM1043.1 471.7q6.6 -0.1 7.1 -3.6q-6.2 -0.1 -7.1 3.6zM1043.3 470.4q3.3 1.1 3.6 -2.1q-3.4 -1.1 -3.6 2.1zM1044.6 476.0q4.6 -2.4 5.4 -7.2q-4.5 2.3 -5.4 7.2zM1042.0 469.6q4.0 -0.5 4.5 -5.2q-4.8 1.4 -4.5 5.2zM1063.2 488.7q2.4 -1.2 2.6 -6.7q-3.5 4.2 -2.6 6.7zM1058.5 494.9q2.7 -2.7 2.7 -4.7q-2.6 2.5 -2.7 4.7zM1057.1 486.4q3.6 -3.8 3.6 -9.5q-3.2 2.6 -3.6 9.5zM1056.7 499.0q3.1 -3.0 3.4 -5.5q-2.2 1.6 -3.4 5.5zM1043.5 469.6q4.0 -2.4 3.7 -7.0q-3.2 1.0 -3.7 7.0zM1047.0 466.8q3.1 -0.1 2.2 -2.8q-2.7 -0.3 -2.2 2.8zM1048.5 475.4q3.8 -4.3 3.0 -7.6q-2.9 1.8 -3.0 7.6zM1043.4 470.9q1.6 -0.6 1.8 -4.0q-2.4 2.4 -1.8 4.0zM1033.8 471.5q3.3 -1.1 4.5 -4.5q-3.1 0.9 -4.5 4.5zM1030.8 474.6q3.0 -4.7 1.6 -8.9q-3.1 5.4 -1.6 8.9zM1030.9 470.0q4.6 -3.6 4.1 -8.9q-5.3 5.1 -4.1 8.9zM1033.0 474.4q3.3 -0.5 3.0 -4.4q-4.2 1.9 -3.0 4.4zM1033.4 473.1q2.6 -1.4 3.9 -8.2q-3.7 3.8 -3.9 8.2zM1033.2 472.2q2.5 -1.2 2.5 -5.4q-3.1 2.3 -2.5 5.4zM1052.2 404.3q2.9 -1.6 2.1 -5.6q-3.5 3.2 -2.1 5.6zM1046.1 419.4q3.8 -0.5 6.9 -5.8q-3.5 0.2 -6.9 5.8zM1051.0 406.6q4.4 -0.9 4.9 -5.4q-4.4 0.9 -4.9 5.4zM1052.1 412.1q3.5 -1.1 3.4 -5.5q-3.2 0.6 -3.4 5.5zM1044.6 401.1q6.1 -0.4 9.2 -3.8q-7.4 0.9 -9.2 3.8zM1042.0 396.9q5.1 -1.7 6.8 -6.1q-3.7 0.5 -6.8 6.1zM1055.1 405.8q5.4 -2.4 7.7 -6.7q-4.8 1.8 -7.7 6.7zM1072.2 475.5q1.6 -1.6 -0.5 -5.4q-1.4 3.6 0.5 5.4zM1064.4 481.1q2.5 -0.7 3.0 -3.2q-1.9 0.1 -3.0 3.2zM1068.7 480.4q3.7 -2.2 3.2 -5.3q-3.9 2.6 -3.2 5.3zM1076.2 472.0q3.3 -5.4 3.4 -8.1q-1.9 2.1 -3.4 8.1zM1032.5 471.6q3.7 -2.7 3.5 -7.4q-4.5 4.5 -3.5 7.4zM1036.3 473.9q1.7 -0.1 2.6 -2.7q-1.7 0.1 -2.6 2.7zM1036.2 478.3q3.5 -0.4 5.3 -4.9q-5.0 1.8 -5.3 4.9zM1033.0 476.5q1.1 -0.7 1.0 -3.5q-1.5 1.9 -1.0 3.5zM1020.9 413.3q2.6 -1.5 0.6 -5.3q-2.8 3.3 -0.6 5.3zM1023.4 417.6q4.1 -3.8 3.9 -9.4q-4.2 4.0 -3.9 9.4zM1023.3 413.1q2.3 -1.2 1.5 -6.0q-2.3 1.4 -1.5 6.0zM1024.3 414.3q4.4 -2.8 5.1 -4.9q-3.6 2.0 -5.1 4.9zM1019.9 411.2q1.9 -0.5 3.0 -4.4q-2.7 1.6 -3.0 4.4zM1025.2 502.8q5.2 -1.9 6.9 -6.9q-6.5 3.2 -6.9 6.9zM1022.9 494.2q4.5 -2.2 4.9 -5.7q-4.1 1.7 -4.9 5.7zM1020.3 497.5q3.5 0.5 4.4 -2.4q-2.2 -1.2 -4.4 2.4zM1026.1 502.6q7.1 0.1 9.6 -3.7q-6.1 -0.5 -9.6 3.7zM1026.7 500.0q4.6 1.9 5.4 -1.2q-3.6 -2.2 -5.4 1.2zM1072.0 380.4q3.8 -3.5 2.4 -6.0q-2.8 0.8 -2.4 6.0zM1065.8 374.8q3.2 -2.3 3.1 -5.2q-3.6 3.0 -3.1 5.2zM1071.5 375.7q4.0 -4.3 2.6 -10.7q-4.0 4.5 -2.6 10.7zM1071.6 366.7q3.0 -1.5 2.8 -7.8q-4.2 4.8 -2.8 7.8zM1065.0 373.8q3.2 -3.6 3.0 -6.0q-2.9 3.0 -3.0 6.0zM1068.5 362.5q2.3 -1.1 3.4 -4.1q-2.4 1.3 -3.4 4.1zM1069.6 372.8q2.2 -2.8 2.1 -9.3q-2.0 2.1 -2.1 9.3zM1046.4 366.6q1.9 -1.3 2.0 -3.5q-1.6 0.7 -2.0 3.5zM1044.5 363.5q3.0 -3.7 2.2 -10.1q-2.7 2.3 -2.2 10.1zM1047.4 361.1q2.9 -3.9 1.5 -9.0q-2.7 2.8 -1.5 9.0zM1046.4 494.9q2.7 -0.8 4.8 -4.1q-4.2 2.2 -4.8 4.1zM1046.8 493.9q3.0 0.4 2.8 -2.3q-2.1 -1.0 -2.8 2.3zM1044.7 493.1q3.7 -4.5 3.5 -7.2q-2.5 2.0 -3.5 7.2zM1050.5 489.8q4.7 0.7 7.0 -3.9q-4.3 -0.9 -7.0 3.9zM1043.5 501.2q3.8 -0.6 2.7 -3.6q-3.1 -0.4 -2.7 3.6zM1046.1 491.1q7.2 -2.8 7.4 -6.4q-3.9 0.0 -7.4 6.4zM1013.3 463.6q5.3 -2.1 7.5 -7.9q-3.7 0.5 -7.5 7.9zM1013.9 467.9q2.7 -1.2 1.0 -4.4q-2.8 1.5 -1.0 4.4zM1017.9 464.5q3.3 -5.9 0.9 -8.8q-3.3 5.2 -0.9 8.8zM1018.2 463.3q2.5 -0.5 7.1 -5.5q-5.7 3.0 -7.1 5.5zM1020.5 469.7q2.2 -0.9 5.0 -5.6q-4.1 3.1 -5.0 5.6zM1015.8 461.2q2.1 -2.6 1.7 -4.6q-1.7 1.4 -1.7 4.6zM1023.4 465.5q3.2 -2.9 3.2 -7.0q-3.1 2.7 -3.2 7.0zM1064.0 391.8q4.0 -1.4 4.0 -5.0q-3.5 0.7 -4.0 5.0zM1058.9 390.6q5.3 -0.7 8.1 -7.2q-4.7 0.3 -8.1 7.2zM1056.9 382.3q3.9 -1.1 3.5 -6.6q-4.5 2.3 -3.5 6.6zM1058.5 392.8q4.4 -1.7 5.6 -4.4q-2.9 0.5 -5.6 4.4zM1065.1 391.7q2.2 -0.3 2.1 -2.8q-1.9 0.0 -2.1 2.8zM1056.0 385.9q3.4 0.5 7.2 -2.9q-2.7 -0.8 -7.2 2.9zM1065.7 386.9q3.6 -3.3 5.3 -7.6q-2.7 2.0 -5.3 7.6zM1041.6 388.9q3.0 -1.0 1.2 -5.0q-3.1 1.4 -1.2 5.0zM1036.5 394.6q4.3 -1.4 7.5 -6.6q-6.5 3.3 -7.5 6.6zM1038.9 396.1q3.6 -2.9 1.4 -5.2q-3.2 1.4 -1.4 5.2zM1041.1 393.9q2.6 0.4 2.9 -2.8q-3.2 0.1 -2.9 2.8zM1021.2 456.3q5.8 -3.1 5.8 -6.7q-3.3 0.2 -5.8 6.7zM1014.0 456.8q2.8 -1.2 4.0 -4.4q-2.6 1.0 -4.0 4.4zM1013.7 459.7q4.1 -3.1 5.5 -8.5q-5.3 4.9 -5.5 8.5zM1043.1 402.3q5.5 -2.9 8.0 -7.5q-4.8 2.3 -8.0 7.5zM1049.0 400.5q5.0 -2.1 6.6 -5.7q-3.4 0.8 -6.6 5.7zM1041.7 401.6q3.5 -4.0 1.9 -7.7q-3.6 4.3 -1.9 7.7zM1054.0 397.3q3.2 -0.5 3.5 -2.2q-1.7 -0.5 -3.5 2.2zM1065.4 471.3q1.8 -2.1 1.1 -4.5q-1.5 1.0 -1.1 4.5zM1071.8 474.1q2.6 -2.3 1.1 -4.8q-2.8 2.8 -1.1 4.8zM1063.7 468.6q2.5 -1.7 2.2 -8.5q-3.0 3.5 -2.2 8.5zM1061.4 473.4q5.1 -3.3 4.9 -6.6q-3.5 1.1 -4.9 6.6zM1041.7 494.8q1.6 -1.3 0.6 -4.3q-1.9 2.8 -0.6 4.3zM1040.8 490.6q2.8 -3.0 0.3 -6.4q-2.7 2.1 -0.3 6.4zM1039.3 493.0q3.0 -2.3 2.5 -7.2q-3.7 4.4 -2.5 7.2zM1025.3 466.9q4.7 -0.1 6.8 -4.4q-4.5 -0.0 -6.8 4.4zM1024.2 471.0q2.9 0.4 3.1 -3.2q-3.6 0.4 -3.1 3.2zM1022.7 464.7q4.8 -1.1 4.1 -4.5q-4.5 0.7 -4.1 4.5zM1036.7 466.0q4.0 0.3 5.6 -4.6q-5.8 1.2 -5.6 4.6zM1018.2 472.8q5.9 -3.2 7.1 -8.0q-3.9 0.9 -7.1 8.0zM1025.1 464.7q4.6 0.6 9.1 -4.3q-6.1 0.1 -9.1 4.3zM1021.5 458.9q4.7 -2.1 5.8 -5.5q-4.9 2.2 -5.8 5.5zM1062.8 409.3q2.9 -2.6 3.0 -4.9q-2.9 2.6 -3.0 4.9zM1063.7 407.9q2.5 -0.8 3.5 -4.4q-3.3 1.9 -3.5 4.4zM1070.6 418.0q1.7 -2.2 1.3 -8.0q-1.9 3.5 -1.3 8.0zM1065.6 423.4q2.2 -3.5 -0.9 -8.1q-2.1 4.8 0.9 8.1zM1071.9 421.4q2.5 -2.8 1.7 -5.6q-2.2 2.0 -1.7 5.6zM1073.0 428.5q4.6 -0.6 5.5 -5.6q-3.7 -0.2 -5.5 5.6zM1077.5 429.6q2.3 -1.5 2.4 -7.6q-2.7 2.7 -2.4 7.6zM1070.6 424.4q1.8 -3.0 0.8 -6.3q-2.0 4.2 -0.8 6.3zM1065.3 423.0q3.0 -1.5 0.9 -4.1q-3.0 1.3 -0.9 4.1zM1069.8 428.0q2.8 -4.1 0.5 -7.1q-2.7 1.8 -0.5 7.1zM1017.9 486.2q2.0 0.2 4.7 -3.6q-4.2 1.4 -4.7 3.6zM1019.5 479.8q3.0 0.3 2.4 -2.6q-3.4 0.1 -2.4 2.6zM1016.0 485.0q2.2 -0.1 2.9 -4.1q-3.2 1.5 -2.9 4.1zM1020.7 482.8q3.1 -2.9 1.8 -5.4q-3.2 3.2 -1.8 5.4zM1022.6 487.8q1.3 -2.7 0.8 -6.5q-1.2 1.9 -0.8 6.5zM1016.7 484.2q2.9 -4.8 2.0 -7.3q-2.7 4.1 -2.0 7.3zM1020.8 490.1q1.7 -0.3 2.9 -3.4q-2.1 0.8 -2.9 3.4zM1039.1 394.5q1.2 -3.0 0.4 -7.5q-1.1 2.1 -0.4 7.5zM1035.5 395.1q3.6 -1.3 1.2 -3.4q-3.2 0.4 -1.2 3.4zM1043.0 400.8q2.7 -3.8 2.0 -7.1q-2.8 4.3 -2.0 7.1zM1040.6 391.2q3.7 -1.1 3.8 -8.6q-4.0 1.7 -3.8 8.6zM1037.9 392.6q0.8 -3.3 -0.1 -4.5q-0.8 3.4 0.1 4.5zM1073.7 423.4q1.7 -1.0 1.9 -3.2q-2.0 1.5 -1.9 3.2zM1063.2 420.9q4.7 -1.6 5.6 -5.1q-4.5 1.4 -5.6 5.1zM1066.4 427.2q3.7 -1.3 4.5 -5.2q-3.7 1.4 -4.5 5.2zM1069.0 423.2q5.7 -2.6 7.2 -5.6q-5.5 2.4 -7.2 5.6zM1044.4 386.9q1.9 0.9 3.9 -0.7q-1.3 -1.0 -3.9 0.7zM1051.2 396.7q2.9 1.8 5.2 -2.2q-4.4 -1.2 -5.2 2.2zM1052.6 397.0q1.6 1.0 4.7 -1.2q-1.7 -0.9 -4.7 1.2zM1045.9 389.8q4.6 -0.1 4.8 -3.9q-3.7 -0.6 -4.8 3.9zM1070.5 369.8q2.4 -5.7 2.2 -8.8q-2.3 5.4 -2.2 8.8zM1055.7 455.3q4.3 -1.8 3.3 -4.9q-3.7 0.9 -3.3 4.9zM1050.4 447.1q5.3 -2.3 5.8 -5.0q-3.0 0.4 -5.8 5.0zM1047.8 446.5q3.1 -1.1 4.8 -6.5q-3.5 1.6 -4.8 6.5zM1052.2 448.1q2.7 -0.0 2.6 -3.6q-3.6 1.3 -2.6 3.6zM1051.0 446.9q6.8 -2.7 6.9 -6.2q-5.3 1.3 -6.9 6.2zM1050.2 439.2q4.4 -0.5 4.9 -2.6q-4.1 0.4 -4.9 2.6zM1030.1 476.8q3.8 -3.8 2.8 -7.4q-3.8 3.7 -2.8 7.4zM1032.3 480.8q6.0 -1.3 7.3 -5.4q-4.2 -0.0 -7.3 5.4zM1031.4 478.6q4.8 -1.9 3.4 -4.7q-4.3 1.2 -3.4 4.7zM1024.1 481.0q2.6 -2.1 4.4 -6.2q-3.1 2.8 -4.4 6.2zM1030.5 476.8q3.2 -2.4 5.5 -8.4q-4.3 4.1 -5.5 8.4zM1033.6 497.5q2.2 -1.9 1.4 -4.3q-2.1 1.7 -1.4 4.3zM1040.6 496.8q2.4 -3.8 0.8 -7.1q-2.4 3.5 -0.8 7.1zM1033.1 496.0q2.5 -2.3 1.4 -10.1q-2.9 5.0 -1.4 10.1zM1038.2 498.5q3.1 0.5 1.6 -3.3q-3.7 0.7 -1.6 3.3zM1032.9 496.3q1.2 -3.4 0.6 -7.0q-1.3 4.4 -0.6 7.0zM1038.1 499.3q4.2 -3.1 5.0 -6.5q-4.0 2.9 -5.0 6.5zM1081.5 389.5q2.1 -2.8 1.5 -4.5q-2.2 3.0 -1.5 4.5zM1074.9 393.4q2.3 -1.5 2.2 -3.1q-1.9 0.9 -2.2 3.1zM1034.9 444.1q2.5 -3.7 1.1 -10.5q-2.9 7.6 -1.1 10.5zM1037.4 450.9q5.1 -2.3 3.8 -5.3q-5.0 2.1 -3.8 5.3zM1041.0 447.5q3.0 -0.7 4.3 -7.0q-5.1 4.0 -4.3 7.0zM1033.1 444.8q2.4 -2.3 4.0 -7.6q-3.2 3.8 -4.0 7.6zM1020.4 480.7q1.4 -1.7 0.3 -4.7q-1.4 1.1 -0.3 4.7zM1023.7 479.9q3.7 -3.5 2.6 -7.0q-3.6 3.4 -2.6 7.0zM1020.7 475.0q2.9 -1.3 1.3 -4.3q-3.1 1.9 -1.3 4.3zM1022.0 468.8q3.8 -4.0 3.4 -9.7q-4.4 5.7 -3.4 9.7zM1019.2 473.1q4.0 -0.7 4.4 -6.6q-4.2 1.0 -4.4 6.6zM1027.0 478.1q2.1 -3.1 0.7 -6.1q-1.9 1.8 -0.7 6.1zM1023.4 473.0q3.1 -2.3 2.9 -6.7q-3.0 2.0 -2.9 6.7zM1037.3 501.9q3.3 -4.1 4.1 -9.3q-3.3 3.9 -4.1 9.3zM1029.6 509.5q2.6 -1.1 2.5 -4.7q-2.6 1.0 -2.5 4.7zM1037.3 512.8q2.0 -2.9 1.7 -5.6q-2.0 2.8 -1.7 5.6zM1033.6 507.7q2.5 -3.1 0.5 -7.7q-2.5 3.2 -0.5 7.7zM1030.6 507.7q4.8 -1.6 6.7 -6.1q-4.0 0.9 -6.7 6.1zM1055.6 407.7q5.2 -1.9 9.2 -5.8q-5.2 1.9 -9.2 5.8zM1064.9 396.7q5.0 -3.9 4.2 -9.4q-4.0 1.6 -4.2 9.4zM1068.5 396.8q4.6 -1.1 7.9 -3.6q-4.0 0.8 -7.9 3.6zM1067.5 398.4q2.2 -5.0 1.6 -8.1q-2.3 5.4 -1.6 8.1zM1066.8 404.0q4.3 -2.2 3.1 -5.3q-4.0 1.8 -3.1 5.3zM1069.9 410.1q6.1 -0.4 7.4 -3.9q-4.8 -0.2 -7.4 3.9zM1067.7 406.0q4.6 -1.9 5.7 -7.4q-5.0 2.4 -5.7 7.4zM1018.9 468.1q2.1 -2.6 -1.3 -3.5q-1.8 3.5 1.3 3.5zM1017.5 472.6q2.5 -1.9 0.7 -5.2q-2.4 1.1 -0.7 5.2zM1018.1 468.2q4.0 -2.5 6.1 -6.6q-4.2 2.8 -6.1 6.6zM1023.7 476.1q3.4 -1.9 5.3 -7.8q-4.6 3.6 -5.3 7.8zM1068.7 478.2q3.4 -1.4 3.7 -4.5q-3.4 1.3 -3.7 4.5zM1068.3 475.4q3.3 -1.8 2.7 -4.7q-3.2 1.5 -2.7 4.7zM1069.2 472.2q4.8 -2.0 4.8 -7.2q-4.3 1.2 -4.8 7.2zM1075.8 470.8q3.9 0.0 4.2 -5.0q-5.4 1.7 -4.2 5.0zM1066.2 373.4q3.7 -0.9 5.4 -4.8q-3.0 0.3 -5.4 4.8zM1072.8 374.6q2.4 -0.8 1.5 -3.4q-2.2 0.4 -1.5 3.4zM1066.6 369.6q2.9 -3.0 2.7 -9.4q-3.7 5.9 -2.7 9.4zM1072.6 377.1q2.0 -1.7 1.3 -3.6q-2.0 1.7 -1.3 3.6zM1039.2 401.8q6.3 -1.6 8.2 -4.4q-5.9 1.3 -8.2 4.4zM1039.6 398.5q2.7 0.6 4.0 -0.5q-2.2 -0.6 -4.0 0.5zM1035.9 396.0q3.2 0.7 3.4 -3.0q-3.1 -0.8 -3.4 3.0zM1043.3 397.0q2.5 0.1 5.5 -3.0q-4.3 0.8 -5.5 3.0zM1044.4 395.6q2.8 0.2 8.9 -3.8q-6.9 1.5 -8.9 3.8zM1033.9 467.8q4.9 -2.6 3.5 -5.9q-3.7 0.7 -3.5 5.9zM1030.3 466.0q3.5 -2.9 5.2 -9.2q-3.6 3.1 -5.2 9.2zM1030.1 469.4q2.2 -1.4 3.0 -4.1q-2.8 2.2 -3.0 4.1zM1031.6 462.4q3.8 -1.7 3.4 -4.2q-2.6 0.3 -3.4 4.2zM1052.8 427.2q4.9 -1.3 8.6 -4.8q-3.8 0.7 -8.6 4.8zM1054.7 420.6q5.1 0.6 6.8 -3.5q-6.3 -0.0 -6.8 3.5zM1064.8 428.6q2.6 -0.9 2.8 -3.0q-2.1 0.3 -2.8 3.0zM1057.5 427.0q4.1 -1.3 3.9 -5.3q-3.5 0.5 -3.9 5.3zM1061.0 429.8q4.3 -0.7 7.5 -3.4q-5.7 1.4 -7.5 3.4zM1056.9 424.2q3.3 -2.5 3.8 -6.1q-2.9 1.9 -3.8 6.1zM1031.2 409.5q3.3 -1.0 2.5 -3.6q-3.5 1.2 -2.5 3.6zM1040.9 407.7q2.5 -0.6 2.9 -3.0q-2.8 0.8 -2.9 3.0zM1045.7 410.4q2.4 -1.7 2.8 -8.4q-2.8 2.7 -2.8 8.4zM1033.0 410.9q3.6 -3.9 3.2 -9.4q-3.5 3.5 -3.2 9.4zM1040.7 416.4q4.9 -2.6 7.2 -8.1q-5.6 3.4 -7.2 8.1zM1038.6 417.4q4.7 -2.4 4.1 -6.1q-3.9 1.2 -4.1 6.1zM1008.8 483.9q0.1 -4.2 -1.4 -6.4q0.0 5.0 1.4 6.4zM1021.4 479.3q4.9 -3.5 6.6 -8.0q-4.8 3.4 -6.6 8.0zM1015.5 475.9q2.6 -1.2 2.7 -3.2q-2.7 1.2 -2.7 3.2zM1007.5 482.7q3.0 -0.4 1.4 -3.5q-3.3 0.9 -1.4 3.5zM1017.2 477.4q2.4 -3.0 1.9 -5.2q-2.0 2.0 -1.9 5.2zM1012.1 485.6q2.7 -0.7 3.9 -4.6q-2.3 0.2 -3.9 4.6zM1054.1 463.1q3.3 -3.7 3.8 -8.8q-3.1 3.1 -3.8 8.8zM1063.6 470.7q3.6 0.3 7.6 -6.3q-7.0 2.5 -7.6 6.3zM1066.6 467.6q4.4 -4.3 5.4 -7.4q-2.5 1.8 -5.4 7.4zM1061.6 462.4q3.3 -0.7 2.5 -3.7q-3.5 0.9 -2.5 3.7zM1017.9 431.9q3.2 -3.1 2.6 -6.9q-3.5 3.9 -2.6 6.9zM1024.3 436.7q4.1 -0.1 3.4 -2.8q-2.7 -1.1 -3.4 2.8zM1020.9 438.2q4.8 -1.1 5.9 -5.1q-4.4 0.8 -5.9 5.1zM1025.9 436.2q2.5 -4.0 0.5 -7.2q-2.5 3.9 -0.5 7.2zM1024.9 433.3q2.5 -1.0 3.3 -4.0q-2.3 0.8 -3.3 4.0zM1024.4 433.1q1.8 0.3 3.6 -1.6q-2.0 -0.2 -3.6 1.6zM1050.8 443.6q3.3 -2.1 2.2 -4.4q-2.6 0.7 -2.2 4.4zM1049.4 445.7q4.7 -0.6 4.5 -4.7q-3.5 -0.7 -4.5 4.7zM1050.8 444.4q4.2 -3.3 3.9 -10.1q-5.4 6.3 -3.9 10.1zM1047.5 488.2q4.0 -5.4 2.4 -9.1q-4.0 5.7 -2.4 9.1zM1046.3 493.2q2.8 -4.5 2.5 -7.1q-2.0 2.2 -2.5 7.1zM1048.5 485.4q4.1 -0.9 5.9 -3.8q-4.4 1.1 -5.9 3.8zM1049.5 487.4q3.8 -1.0 4.0 -6.6q-4.2 1.6 -4.0 6.6zM1038.6 487.6q2.9 -0.2 3.1 -3.2q-2.2 -0.5 -3.1 3.2zM1035.8 480.5q2.2 -3.5 0.5 -7.6q-2.1 1.9 -0.5 7.6zM1030.2 475.0q5.1 -3.0 6.3 -5.5q-5.0 3.0 -6.3 5.5zM1037.4 472.5q2.3 -1.0 2.3 -5.9q-2.5 1.4 -2.3 5.9zM1036.2 474.7q1.3 -1.5 0.1 -4.0q-1.3 2.6 -0.1 4.0zM1055.1 395.4q2.6 -0.5 1.5 -3.5q-2.8 1.0 -1.5 3.5zM1062.0 391.5q4.2 -1.6 3.7 -5.1q-4.3 1.7 -3.7 5.1zM1061.4 393.9q2.7 -2.2 3.1 -5.8q-2.0 1.0 -3.1 5.8zM1057.5 388.9q2.8 -2.8 2.9 -5.9q-2.4 1.9 -2.9 5.9zM1060.9 397.5q1.0 -3.6 -1.0 -7.9q-1.0 4.1 1.0 7.9zM1061.9 395.1q2.8 -3.9 2.1 -9.3q-3.0 5.0 -2.1 9.3zM1056.8 395.1q3.5 -6.7 1.4 -10.1q-3.1 4.0 -1.4 10.1zM1031.2 507.6q5.7 -6.2 4.5 -9.8q-4.4 3.4 -4.5 9.8zM1036.9 506.4q2.2 -1.9 2.6 -5.9q-2.1 1.6 -2.6 5.9zM1045.4 513.8q3.7 -1.3 4.9 -7.4q-3.6 1.0 -4.9 7.4zM1031.9 513.8q5.6 -2.1 7.5 -7.7q-7.3 3.9 -7.5 7.7zM1034.5 509.1q1.6 -2.9 0.3 -4.4q-1.6 2.4 -0.3 4.4zM1035.3 515.5q2.6 -1.6 2.5 -3.4q-1.5 0.2 -2.5 3.4zM1062.5 422.7q5.0 -4.5 4.6 -8.3q-4.3 3.1 -4.6 8.3zM1061.2 416.8q4.0 -1.5 3.3 -5.3q-3.2 0.2 -3.3 5.3zM1065.0 423.7q1.9 -2.4 -0.0 -3.9q-1.9 1.6 0.0 3.9zM1069.9 421.4q1.4 -2.6 0.7 -5.1q-1.5 2.8 -0.7 5.1zM1057.9 421.8q4.0 -4.1 4.6 -8.9q-3.0 2.2 -4.6 8.9zM1059.8 370.5q1.5 -0.5 2.2 -1.9q-1.1 0.1 -2.2 1.9zM1058.4 363.0q1.4 -0.1 2.8 -2.4q-1.2 0.0 -2.8 2.4zM1046.2 360.8q1.7 -0.8 2.6 -3.1q-2.1 1.2 -2.6 3.1zM1046.6 359.6q2.5 -1.4 2.9 -3.7q-2.3 1.2 -2.9 3.7zM1051.9 348.8q1.6 -1.0 2.0 -3.7q-2.2 2.1 -2.0 3.7zM1056.0 367.6q2.2 -0.1 4.1 -1.8q-2.1 0.0 -4.1 1.8zM1058.8 366.1q1.4 -0.5 3.0 -3.5q-1.8 0.9 -3.0 3.5zM1096.5 229.7q1.1 -1.6 0.3 -3.3q-1.1 1.9 -0.3 3.3zM1095.0 233.6q0.9 -0.9 0.5 -2.3q-0.9 0.8 -0.5 2.3zM1095.6 233.2q1.3 -0.4 0.9 -2.8q-1.6 1.3 -0.9 2.8zM1089.9 256.6q1.9 -0.5 3.1 -3.9q-3.2 2.2 -3.1 3.9zM1091.2 254.9q1.9 -0.6 2.5 -3.2q-2.6 1.5 -2.5 3.2zM1097.0 245.9q1.3 -1.0 0.9 -3.2q-1.6 2.1 -0.9 3.2zM1098.5 248.3q1.2 -1.2 1.1 -3.1q-1.3 1.3 -1.1 3.1zM1095.4 237.8q1.2 -1.9 0.8 -3.4q-1.1 1.7 -0.8 3.4zM799.7 566.5q2.9 0.5 4.8 -0.8q-1.9 -0.7 -4.8 0.8zM802.3 562.7q0.7 0.9 2.3 -0.1q-1.1 -0.9 -2.3 0.1zM862.9 571.3q2.9 -1.1 3.3 -2.6q-2.9 1.1 -3.3 2.6zM863.5 572.3q2.6 -0.4 3.4 -2.0q-1.9 -0.0 -3.4 2.0zM849.0 568.2q1.0 0.9 3.0 -0.4q-1.1 -0.9 -3.0 0.4zM850.7 572.4q2.3 0.3 3.3 -0.8q-1.9 -0.4 -3.3 0.8zM834.7 570.8q2.2 0.7 4.8 -0.6q-3.3 -0.6 -4.8 0.6zM856.4 572.2q2.1 -0.4 2.5 -2.3q-1.4 -0.2 -2.5 2.3zM855.3 569.7q1.6 0.5 2.6 -1.2q-1.4 -0.6 -2.6 1.2zM854.0 572.4q2.0 -0.5 2.1 -2.2q-2.4 0.9 -2.1 2.2zM847.8 571.0q2.1 -0.5 3.1 -2.7q-2.7 1.1 -3.1 2.7zM852.1 572.8q1.1 0.1 1.4 -1.6q-1.3 0.1 -1.4 1.6zM1113.8 575.1q3.2 -4.1 0.9 -6.6q-2.9 1.9 -0.9 6.6zM1115.1 577.9q2.9 -1.3 -0.0 -3.7q-2.9 2.5 0.0 3.7zM1119.5 576.1q2.7 -7.4 1.4 -10.4q-2.5 6.2 -1.4 10.4zM1110.9 580.2q2.5 -2.5 1.5 -5.0q-2.7 3.1 -1.5 5.0zM1113.9 579.1q3.9 -5.9 1.4 -9.8q-3.5 3.5 -1.4 9.8zM1119.9 541.6q1.1 -2.0 0.3 -5.0q-1.2 3.0 -0.3 5.0zM1121.9 544.2q4.1 -4.5 2.7 -8.5q-3.5 2.8 -2.7 8.5zM1124.0 539.7q2.2 0.5 2.8 -3.1q-3.0 0.4 -2.8 3.1zM1123.2 547.1q2.6 -3.4 2.4 -7.5q-2.7 3.8 -2.4 7.5zM1123.7 544.3q2.3 -1.3 3.6 -7.6q-3.8 4.4 -3.6 7.6zM1113.1 559.9q2.7 -1.7 2.4 -3.6q-2.3 1.1 -2.4 3.6zM1118.7 557.7q1.7 -3.1 1.1 -8.7q-1.9 4.8 -1.1 8.7zM1114.9 557.6q3.0 -1.6 1.3 -6.6q-3.0 1.5 -1.3 6.6zM1128.7 581.1q1.2 -3.2 -0.9 -4.8q-1.2 3.2 0.9 4.8zM1116.6 573.4q3.5 -6.8 1.8 -10.7q-3.3 5.6 -1.8 10.7zM1119.5 579.3q2.8 -2.7 2.9 -5.9q-2.2 1.4 -2.9 5.9zM1124.2 576.5q3.1 -4.1 3.3 -6.7q-2.0 1.9 -3.3 6.7zM1123.4 574.8q2.6 -3.3 1.8 -8.2q-2.6 3.7 -1.8 8.2zM1113.2 555.8q3.1 -6.6 3.2 -9.8q-2.0 3.1 -3.2 9.8zM1118.6 555.5q3.4 -1.6 1.6 -4.7q-3.3 1.3 -1.6 4.7zM1115.0 552.5q2.0 -3.2 0.9 -10.3q-2.0 2.8 -0.9 10.3zM1115.7 549.2q4.2 -0.5 5.4 -6.0q-4.4 0.6 -5.4 6.0zM1118.6 556.5q2.0 -1.1 1.2 -4.5q-2.3 2.3 -1.2 4.5zM1115.5 548.2q2.8 -0.1 3.6 -4.0q-2.5 -0.2 -3.6 4.0zM1118.5 555.7q2.7 -2.0 2.1 -9.4q-3.8 6.5 -2.1 9.4zM1117.9 546.5q-0.5 -6.7 -2.0 -8.9q-0.1 3.8 2.0 8.9zM1117.6 544.0q1.6 -1.9 0.4 -3.6q-1.7 2.0 -0.4 3.6zM1113.1 548.7q2.7 -2.9 1.8 -5.3q-2.2 1.5 -1.8 5.3zM1110.4 551.0q3.3 -2.1 2.8 -4.5q-3.4 2.2 -2.8 4.5zM1116.3 544.6q4.4 -0.2 5.0 -2.4q-4.5 0.3 -5.0 2.4zM1112.3 547.2q5.2 -4.8 6.0 -7.4q-2.9 1.9 -6.0 7.4zM1114.4 543.9q2.5 -1.8 0.3 -5.3q-2.5 3.3 -0.3 5.3zM1114.8 544.9q3.3 -4.7 2.6 -9.1q-3.5 5.5 -2.6 9.1zM1117.5 546.0q4.1 -0.7 7.3 -7.2q-6.3 2.9 -7.3 7.2zM1118.6 543.3q3.6 -0.6 4.9 -7.1q-4.3 1.7 -4.9 7.1zM1119.4 548.0q3.2 -4.8 2.8 -7.7q-2.8 3.7 -2.8 7.7zM1121.3 562.1q3.5 -0.4 2.5 -4.1q-3.2 -0.2 -2.5 4.1zM1118.9 558.3q4.5 -2.8 5.1 -9.0q-5.4 4.4 -5.1 9.0zM1117.0 564.4q3.3 -3.0 2.2 -5.5q-3.2 2.7 -2.2 5.5zM1122.9 561.1q3.3 -1.3 2.8 -4.3q-2.7 0.3 -2.8 4.3zM1126.1 577.3q1.6 -1.9 -0.9 -4.1q-1.5 2.7 0.9 4.1zM1121.0 575.7q3.3 -1.1 1.9 -5.4q-3.9 2.9 -1.9 5.4zM1124.1 576.0q1.9 -4.0 0.0 -7.0q-1.9 5.1 -0.0 7.0zM1114.0 557.3q2.5 -1.2 2.8 -5.0q-3.1 2.4 -2.8 5.0zM1116.1 552.7q3.3 -0.8 5.3 -6.0q-4.3 1.9 -5.3 6.0zM1111.3 553.2q3.2 -1.8 1.1 -3.8q-2.8 0.6 -1.1 3.8z" fill="#a4b2dc"/><path d="M916.7 318.0C917.8 319.7 920.3 325.2 923.1 328.2C925.9 331.2 929.5 332.5 933.3 335.9C937.2 339.3 942.3 345.3 946.1 348.7C949.9 352.1 954.4 352.9 956.3 356.3C958.2 359.7 957.0 364.4 957.6 369.1C958.2 373.8 958.7 378.9 960.2 384.4C961.7 390.0 965.4 396.4 966.5 402.3C967.7 408.3 967.9 415.7 967.1 420.2C966.2 424.7 963.2 427.5 961.4 429.2C959.6 430.9 957.2 430.2 956.3 430.4" stroke="#c3cde8" stroke-width="0.9" fill="none" stroke-linejoin="round"/><path d="M1034.3 381.9C1033.8 383.6 1032.8 388.3 1031.7 392.1C1030.6 395.9 1029.4 403.4 1027.9 404.9C1026.4 406.4 1024.7 403.1 1022.8 401.1C1020.9 399.0 1018.9 393.7 1016.4 392.6C1013.8 391.6 1011.1 393.7 1007.4 394.7C1003.8 395.6 997.3 396.4 994.7 398.5C992.0 400.6 991.8 403.0 991.6 407.4C991.4 411.9 992.9 420.2 993.4 425.3C993.9 430.4 995.1 433.0 994.7 438.1C994.2 443.2 991.9 450.5 990.8 456.0C989.8 461.5 988.3 466.6 988.3 471.3C988.3 476.0 989.3 479.8 990.8 484.1C992.3 488.4 996.6 492.6 997.2 496.9C997.9 501.1 996.1 505.8 994.7 509.7C993.2 513.5 988.9 517.3 988.3 519.9C987.6 522.4 990.4 524.1 990.8 525.0" stroke="#c3cde8" stroke-width="0.9" fill="none" stroke-linejoin="round"/><path d="M714.7 307.4C717.2 308.2 724.9 312.3 730.0 312.5C735.1 312.7 740.2 310.2 745.3 308.7C750.4 307.2 757.3 304.9 760.7 303.6C764.1 302.3 764.1 300.8 765.8 301.0C767.5 301.2 768.3 304.6 770.9 304.8C773.5 305.0 777.7 302.1 781.1 302.3C784.5 302.5 787.5 304.2 791.3 306.1C795.1 308.0 799.0 313.0 804.1 313.8C809.2 314.6 815.6 313.3 822.0 311.2C828.4 309.1 836.4 305.2 842.4 301.0C848.4 296.8 853.1 289.5 857.8 285.7C862.5 281.9 866.7 279.4 870.5 278.0C874.3 276.6 877.2 276.6 880.8 277.5C884.4 278.4 888.8 281.3 892.0 283.1C895.2 284.9 897.1 285.2 900.1 288.2C903.1 291.2 907.9 296.7 910.3 301.0C912.6 305.3 913.1 311.0 914.2 313.8C915.3 316.6 916.3 317.3 916.7 318.0" stroke="#c3cde8" stroke-width="0.9" fill="none" stroke-linejoin="round"/><path d="M818.0 176.8C818.7 176.8 820.2 177.1 822.0 176.6C823.8 176.1 826.5 174.7 828.8 174.1C831.1 173.5 834.0 173.9 835.6 173.2C837.2 172.5 837.2 170.1 838.2 169.8C839.2 169.5 840.8 170.2 841.6 171.5C842.5 172.8 842.3 176.2 843.3 177.5C844.3 178.8 846.6 179.6 847.6 179.2C848.6 178.8 848.3 175.2 849.3 174.9C850.3 174.6 853.1 176.2 853.5 177.5C853.9 178.8 850.9 181.5 851.8 182.6C852.6 183.7 856.9 183.2 858.6 184.3C860.3 185.4 861.0 188.0 862.0 189.4C863.0 190.8 863.6 191.4 864.6 192.8C865.6 194.2 866.8 196.9 868.0 197.9C869.2 198.9 868.8 197.8 872.0 198.8C875.2 199.8 883.0 201.8 887.3 203.9C891.6 206.0 893.8 207.3 897.6 211.6C901.4 215.8 906.9 224.9 910.3 229.4C913.7 233.9 913.7 237.5 918.0 238.4C922.3 239.3 929.9 236.3 935.9 234.6C941.9 232.9 949.5 228.6 953.8 228.2C958.0 227.8 957.1 228.0 961.4 232.0C965.6 236.0 974.6 245.6 979.3 252.4C984.0 259.2 987.0 266.9 989.6 272.9C992.2 278.9 993.9 285.6 994.7 288.2" stroke="#c3cde8" stroke-width="0.9" fill="none" stroke-linejoin="round"/><path d="M778.0 441.0C778.9 443.1 781.0 450.2 783.1 453.8C785.3 457.4 787.4 460.4 790.8 462.7C794.2 465.1 799.7 465.7 803.6 467.8C807.4 470.0 811.2 472.7 813.8 475.5C816.3 478.3 816.3 482.3 818.9 484.5C821.5 486.6 825.3 486.8 829.1 488.3C833.0 489.8 838.1 491.5 841.9 493.4C845.7 495.3 849.1 496.6 852.1 499.8C855.1 503.0 857.9 508.3 859.8 512.6C861.7 516.8 863.6 521.1 863.6 525.3C863.6 529.6 861.7 534.7 859.8 538.1C857.9 541.5 855.5 543.4 852.1 545.8C848.7 548.1 843.2 550.7 839.3 552.2C835.5 553.7 831.5 553.7 829.1 554.7C826.8 555.8 825.3 556.9 825.3 558.6C825.3 560.3 828.5 563.9 829.1 565.0" stroke="#c3cde8" stroke-width="0.9" fill="none" stroke-linejoin="round"/></g><g id="s"><circle r="12" fill="#ffd400"/><path d="M0.00 -17.40L0.00 -24.30M-10.23 -14.08L-14.28 -19.66M-16.55 -5.38L-23.11 -7.51M-16.55 5.38L-23.11 7.51M-10.23 14.08L-14.28 19.66M-0.00 17.40L-0.00 24.30M10.23 14.08L14.28 19.66M16.55 5.38L23.11 7.51M16.55 -5.38L23.11 -7.51M10.23 -14.08L14.28 -19.66" stroke="#ffd400" stroke-width="3.4" stroke-linecap="round"/></g><path id="v" d="M-24.8 -4.4C-24.8 -4.7 -23.0 -6.0 -21.8 -6.9C-20.6 -7.8 -19.1 -9.0 -17.7 -9.6C-16.3 -10.2 -15.1 -10.6 -13.6 -10.5C-12.1 -10.4 -10.4 -9.8 -8.9 -9.3C-7.4 -8.8 -6.2 -7.9 -4.8 -7.3C-3.4 -6.7 -2.1 -5.8 -0.7 -5.6C0.7 -5.4 2.0 -5.5 3.4 -5.9C4.8 -6.3 6.2 -7.1 7.5 -7.9C8.8 -8.7 9.9 -9.8 10.9 -10.7C11.9 -11.5 13.0 -12.9 13.4 -13.0C13.8 -13.1 13.4 -12.2 13.3 -11.4C13.2 -10.6 13.1 -9.3 12.6 -8.2C12.1 -7.1 11.2 -5.7 10.2 -4.6C9.2 -3.5 8.0 -2.5 6.8 -1.8C5.5 -1.1 4.0 -0.4 2.7 -0.1C1.5 0.2 0.6 0.3 -0.7 0.2C-1.9 0.1 -3.5 -0.3 -4.8 -0.8C-6.0 -1.3 -7.1 -2.2 -8.2 -2.9C-9.3 -3.6 -10.5 -4.4 -11.6 -4.9C-12.7 -5.4 -13.9 -5.9 -15.0 -6.1C-16.1 -6.3 -17.3 -6.1 -18.4 -5.9C-19.5 -5.7 -20.7 -5.2 -21.8 -4.9C-22.9 -4.7 -24.8 -4.1 -24.8 -4.4Z" fill="#fcfcfc" stroke="#9c9c9c" stroke-width=".6"/><path id="sc" d="M-25.4 22.1C-25.5 20.9 -25.2 19.6 -24.7 18.7C-24.2 17.8 -23.4 17.0 -22.4 16.4C-21.4 15.8 -19.8 15.5 -18.9 15.3C-18.0 15.1 -17.8 15.6 -17.2 15.0C-16.6 14.4 -16.4 12.8 -15.5 11.9C-14.7 11.0 -13.3 10.0 -12.1 9.5C-10.8 9.0 -9.3 8.8 -8.0 8.7C-6.7 8.6 -5.2 8.8 -4.0 9.2C-2.8 9.6 -1.4 10.4 -0.5 10.9C0.4 11.4 0.7 12.0 1.5 12.3C2.3 12.6 3.2 12.4 4.2 12.6C5.2 12.8 6.5 12.9 7.6 13.6C8.7 14.3 10.2 15.5 11.0 16.7C11.8 17.9 12.5 19.6 12.7 20.8C12.9 22.1 12.8 23.1 12.4 24.2C12.0 25.3 11.3 26.7 10.4 27.6C9.5 28.5 8.2 29.2 7.0 29.6C5.8 30.0 4.2 30.1 2.9 30.0C1.6 29.9 0.4 29.2 -0.5 29.3C-1.4 29.4 -1.6 30.0 -2.6 30.3C-3.6 30.6 -5.3 30.9 -6.7 31.0C-8.1 31.1 -9.6 31.1 -10.8 30.7C-12.1 30.3 -13.2 29.0 -14.2 28.6C-15.2 28.2 -15.8 28.7 -16.9 28.6C-18.0 28.6 -19.8 28.8 -21.0 28.3C-22.2 27.9 -23.4 26.9 -24.1 25.9C-24.8 24.9 -25.3 23.3 -25.4 22.1Z" fill="#fcfcfc" stroke="#a6a6a6" stroke-width=".9"/><path id="bc" d="M-25.2 18.4C-25.3 16.9 -25.1 15.6 -24.5 14.3C-23.9 13.1 -22.8 11.8 -21.8 10.9C-20.8 10.0 -19.5 9.4 -18.4 8.9C-17.3 8.4 -15.8 8.8 -15.0 8.2C-14.2 7.6 -14.3 6.5 -13.6 5.5C-12.9 4.5 -12.0 3.0 -10.9 2.0C-9.8 1.0 -8.4 0.3 -6.8 -0.3C-5.2 -0.9 -3.0 -1.3 -1.4 -1.4C0.2 -1.5 1.3 -1.3 2.7 -1.0C4.1 -0.7 5.5 -0.0 6.8 0.7C8.0 1.4 9.3 2.9 10.2 3.4C11.1 3.9 11.3 3.6 12.3 3.7C13.3 3.8 15.0 3.6 16.4 4.1C17.8 4.6 19.3 5.7 20.4 6.8C21.5 7.9 22.5 9.4 23.2 10.9C23.9 12.4 24.2 14.2 24.4 15.7C24.6 17.2 24.7 18.4 24.5 19.8C24.3 21.2 23.9 22.6 23.2 23.9C22.5 25.1 21.5 26.4 20.4 27.3C19.3 28.2 17.8 28.9 16.4 29.3C15.0 29.7 13.7 29.9 12.3 29.8C10.9 29.8 9.1 29.1 8.2 29.0C7.3 28.9 7.5 28.8 6.8 29.0C6.1 29.2 5.2 30.0 4.1 30.3C3.0 30.6 1.6 30.8 0.0 30.8C-1.6 30.8 -3.9 30.7 -5.5 30.3C-7.1 29.9 -8.4 29.2 -9.5 28.6C-10.6 28.0 -11.0 26.9 -11.9 26.9C-12.8 26.8 -14.0 28.1 -15.0 28.3C-16.0 28.5 -16.7 28.6 -17.7 28.3C-18.7 28.0 -20.1 27.5 -21.1 26.6C-22.1 25.8 -23.2 24.6 -23.9 23.2C-24.6 21.8 -25.1 19.9 -25.2 18.4Z" fill="#fcfcfc" stroke="#a6a6a6" stroke-width=".9"/><path id="gc" fill="#aec4d0" d="M-25.2 18.4C-25.3 16.9 -25.1 15.6 -24.5 14.3C-23.9 13.1 -22.8 11.8 -21.8 10.9C-20.8 10.0 -19.5 9.4 -18.4 8.9C-17.3 8.4 -15.8 8.8 -15.0 8.2C-14.2 7.6 -14.3 6.5 -13.6 5.5C-12.9 4.5 -12.0 3.0 -10.9 2.0C-9.8 1.0 -8.4 0.3 -6.8 -0.3C-5.2 -0.9 -3.0 -1.3 -1.4 -1.4C0.2 -1.5 1.3 -1.3 2.7 -1.0C4.1 -0.7 5.5 -0.0 6.8 0.7C8.0 1.4 9.3 2.9 10.2 3.4C11.1 3.9 11.3 3.6 12.3 3.7C13.3 3.8 15.0 3.6 16.4 4.1C17.8 4.6 19.3 5.7 20.4 6.8C21.5 7.9 22.5 9.4 23.2 10.9C23.9 12.4 24.2 14.2 24.4 15.7C24.6 17.2 24.7 18.4 24.5 19.8C24.3 21.2 23.9 22.6 23.2 23.9C22.5 25.1 21.5 26.4 20.4 27.3C19.3 28.2 17.8 28.9 16.4 29.3C15.0 29.7 13.7 29.9 12.3 29.8C10.9 29.8 9.1 29.1 8.2 29.0C7.3 28.9 7.5 28.8 6.8 29.0C6.1 29.2 5.2 30.0 4.1 30.3C3.0 30.6 1.6 30.8 0.0 30.8C-1.6 30.8 -3.9 30.7 -5.5 30.3C-7.1 29.9 -8.4 29.2 -9.5 28.6C-10.6 28.0 -11.0 26.9 -11.9 26.9C-12.8 26.8 -14.0 28.1 -15.0 28.3C-16.0 28.5 -16.7 28.6 -17.7 28.3C-18.7 28.0 -20.1 27.5 -21.1 26.6C-22.1 25.8 -23.2 24.6 -23.9 23.2C-24.6 21.8 -25.1 19.9 -25.2 18.4Z"/><path id="dc" fill="#414f5f" d="M-25.2 18.4C-25.3 16.9 -25.1 15.6 -24.5 14.3C-23.9 13.1 -22.8 11.8 -21.8 10.9C-20.8 10.0 -19.5 9.4 -18.4 8.9C-17.3 8.4 -15.8 8.8 -15.0 8.2C-14.2 7.6 -14.3 6.5 -13.6 5.5C-12.9 4.5 -12.0 3.0 -10.9 2.0C-9.8 1.0 -8.4 0.3 -6.8 -0.3C-5.2 -0.9 -3.0 -1.3 -1.4 -1.4C0.2 -1.5 1.3 -1.3 2.7 -1.0C4.1 -0.7 5.5 -0.0 6.8 0.7C8.0 1.4 9.3 2.9 10.2 3.4C11.1 3.9 11.3 3.6 12.3 3.7C13.3 3.8 15.0 3.6 16.4 4.1C17.8 4.6 19.3 5.7 20.4 6.8C21.5 7.9 22.5 9.4 23.2 10.9C23.9 12.4 24.2 14.2 24.4 15.7C24.6 17.2 24.7 18.4 24.5 19.8C24.3 21.2 23.9 22.6 23.2 23.9C22.5 25.1 21.5 26.4 20.4 27.3C19.3 28.2 17.8 28.9 16.4 29.3C15.0 29.7 13.7 29.9 12.3 29.8C10.9 29.8 9.1 29.1 8.2 29.0C7.3 28.9 7.5 28.8 6.8 29.0C6.1 29.2 5.2 30.0 4.1 30.3C3.0 30.6 1.6 30.8 0.0 30.8C-1.6 30.8 -3.9 30.7 -5.5 30.3C-7.1 29.9 -8.4 29.2 -9.5 28.6C-10.6 28.0 -11.0 26.9 -11.9 26.9C-12.8 26.8 -14.0 28.1 -15.0 28.3C-16.0 28.5 -16.7 28.6 -17.7 28.3C-18.7 28.0 -20.1 27.5 -21.1 26.6C-22.1 25.8 -23.2 24.6 -23.9 23.2C-24.6 21.8 -25.1 19.9 -25.2 18.4Z"/><path id="dr" d="M-2 11.9C-2 11.9 3.4 19 3.4 23.2A5.4 5.4 0 1 1-7.4 23.2C-7.4 19-2 11.9-2 11.9Z" fill="#ccebff"/><path id="Z" d="M0 0L-14.4 18.2L-4.2 18.4L-35 45.2L-21.5 26.6L-31 26.3Z" fill="#f46015"/><g id="A" clip-path="url(#ci)"><use href="#s"/><use href="#v"/></g><g id="F" clip-path="url(#ci)"><use href="#s"/><use href="#v"/><use href="#v" y="8.9"/></g><g id="C" clip-path="url(#ci)"><use href="#s"/></g><g id="B" clip-path="url(#ci)"><use href="#s"/><use href="#sc"/></g><g id="G" clip-path="url(#ci)"><use href="#s"/><use href="#bc"/></g><g id="D" clip-path="url(#cw)"><use href="#s"/><use href="#bc" x="-10" y="-7.5"/><use href="#gc"/></g><g id="E" clip-path="url(#cw)"><use href="#s"/><use href="#bc" x="-10" y="-7.5"/><use href="#dc"/></g><g id="R"><use href="#E"/><use href="#dr"/></g></defs><rect width="1174" height="1272" fill="#fff"/><clipPath id="m1"><rect x="0" y="0" width="564" height="606"/></clipPath><g clip-path="url(#m1)"><use href="#fr" x="-592.0" y="2.0"/><use href="#A" x="315.0" y="85.0"/><use href="#A" x="442.5" y="111.0"/><use href="#A" x="549.0" y="145.0"/><use href="#A" x="371.0" y="139.0"/><use href="#A" x="264.0" y="147.5"/><use href="#A" x="145.0" y="166.0"/><use href="#A" x="487.5" y="180.0"/><use href="#A" x="411.0" y="212.5"/><use href="#A" x="307.5" y="218.8"/><use href="#A" x="60.0" y="234.0"/><use href="#A" x="210.0" y="237.5"/><use href="#A" x="520.0" y="245.0"/><use href="#A" x="140.0" y="282.5"/><use href="#A" x="360.0" y="296.0"/><use href="#A" x="447.5" y="294.0"/><use href="#A" x="267.5" y="322.5"/><use href="#A" x="535.0" y="337.5"/><use href="#A" x="182.5" y="354.0"/><use href="#A" x="390.0" y="369.0"/><use href="#A" x="481.8" y="378.6"/><use href="#A" x="293.5" y="397.5"/><use href="#A" x="196.0" y="451.0"/><use href="#A" x="372.5" y="450.0"/><use href="#A" x="456.0" y="455.2"/><use href="#A" x="283.5" y="473.5"/><use href="#A" x="162.5" y="530.0"/><use href="#A" x="251.5" y="545.0"/><use href="#D" x="527.5" y="495.0"/><use href="#D" x="380.5" y="521.9"/><use href="#E" x="462.5" y="530.0"/><use href="#D" x="332.5" y="566.5"/><use href="#R" x="532.5" y="569.0"/><path d="M512.6 472.8C510.0 474.2 503.2 478.3 497.2 481.0C491.2 483.7 484.9 486.8 476.8 489.2C468.7 491.6 458.3 494.0 448.7 495.1C439.1 496.2 428.7 496.0 419.3 495.8C409.9 495.6 401.6 494.7 392.4 493.8C383.2 492.9 373.7 490.1 364.3 490.7C354.9 491.3 345.1 493.7 336.2 497.6C327.3 501.5 317.5 506.8 310.7 514.2C303.9 521.7 299.1 532.5 295.3 542.3C291.5 552.1 289.0 567.9 287.7 573.0" fill="none" stroke="#ff5a05" stroke-width="5.5" stroke-linecap="round" stroke-dasharray="12.5 16.1" stroke-dashoffset="0"/></g><clipPath id="m2"><rect x="580" y="0" width="570" height="606"/></clipPath><g clip-path="url(#m2)"><use href="#fr" x="0.0" y="0.0"/><use href="#R" x="962.2" y="410.6"/><use href="#R" transform="translate(1041.0 441.0) scale(0.91)"/><path d="M1074.4 357.6C1070.2 357.8 1056.6 358.0 1048.9 358.8C1041.2 359.6 1036.5 360.4 1028.4 362.2C1020.3 364.0 1009.4 366.6 1000.3 369.8C991.2 373.0 980.1 378.4 973.7 381.3C967.4 384.2 966.2 385.1 962.2 387.0C958.2 388.9 954.3 390.1 949.4 392.8C944.5 395.5 937.5 399.5 932.8 403.1C928.1 406.7 925.3 410.6 921.3 414.6C917.2 418.6 914.0 419.9 908.5 427.3C903.0 434.8 893.0 451.4 888.1 459.3C883.2 467.2 882.1 467.2 879.1 474.6C876.1 482.1 872.3 497.0 870.2 504.0C868.1 511.0 867.8 511.3 866.3 516.8C864.8 522.3 862.5 530.0 861.2 537.2C859.9 544.4 859.3 553.6 858.7 560.2C858.1 566.8 857.6 574.0 857.4 576.8" fill="none" stroke="#ff5a05" stroke-width="5.5" stroke-linecap="round" stroke-dasharray="13.5 16.6" stroke-dashoffset="0"/><use href="#B" x="915.5" y="99.8"/><use href="#B" transform="translate(997.0 83.2) scale(0.89)"/><use href="#B" x="855.5" y="152.8"/><use href="#B" x="971.5" y="166.3"/><use href="#B" transform="translate(1057.1 154.8) scale(0.89)"/><use href="#B" x="760.5" y="182.3"/><use href="#B" x="909.6" y="211.7"/><use href="#B" x="822.6" y="232.0"/><use href="#B" x="648.0" y="242.3"/><use href="#B" x="729.5" y="261.3"/><use href="#A" x="1031.5" y="227.6"/><use href="#A" x="1114.8" y="234.2"/><use href="#A" x="957.9" y="267.5"/><use href="#A" x="1069.3" y="297.9"/><use href="#A" x="833.3" y="299.9"/><use href="#A" x="921.1" y="328.9"/><use href="#A" x="1002.5" y="328.8"/><use href="#A" x="752.5" y="341.8"/><use href="#A" x="839.0" y="375.0"/><use href="#A" x="793.5" y="438.8"/><use href="#F" x="757.5" y="533.2"/><use href="#F" x="831.8" y="520.6"/><use href="#G" x="894.5" y="427.5"/><use href="#D" x="1050.5" y="380.0"/><use href="#D" x="985.2" y="472.5"/><use href="#D" x="907.7" y="491.3"/><use href="#D" x="1106.0" y="472.0"/><use href="#D" x="1067.0" y="526.3"/><use href="#E" x="972.7" y="531.2"/><use href="#R" x="893.0" y="563.7"/><use href="#R" x="1124.5" y="561.2"/><use href="#Z" x="983.3" y="421.7"/><use href="#Z" x="1061.3" y="459.1"/></g><clipPath id="m3"><rect x="0" y="711.5" width="559.8" height="570"/></clipPath><g clip-path="url(#m3)"><use href="#fr" x="-595.8" y="654.2"/><path d="M507.9 1121.3C504.9 1122.2 494.9 1125.6 490.0 1126.9C485.1 1128.2 483.2 1128.6 478.5 1129.4C473.8 1130.2 466.8 1131.3 461.9 1131.5C457.0 1131.7 454.2 1131.5 449.1 1130.7C444.0 1129.9 435.9 1128.4 431.2 1126.9C426.5 1125.4 425.1 1124.2 421.0 1121.8C416.9 1119.4 412.1 1117.1 406.9 1112.8C401.7 1108.5 394.9 1101.3 390.0 1096.0C385.1 1090.7 381.2 1085.1 377.6 1080.9C374.0 1076.7 370.1 1072.4 368.6 1070.7" fill="none" stroke="#ff5a05" stroke-width="5.5" stroke-linecap="round" stroke-dasharray="13 15.5" stroke-dashoffset="0"/><use href="#D" x="292.5" y="736.0"/><use href="#G" x="393.4" y="732.1"/><use href="#G" x="257.3" y="800.5"/><use href="#G" x="351.6" y="792.1"/><use href="#B" x="453.8" y="784.3"/><use href="#B" x="547.6" y="832.4"/><use href="#G" x="155.4" y="815.8"/><use href="#B" x="177.5" y="890.3"/><use href="#B" x="282.5" y="884.7"/><use href="#B" x="378.4" y="869.2"/><use href="#B" x="466.6" y="859.0"/><use href="#B" x="397.5" y="1008.5"/><use href="#B" x="485.7" y="1003.7"/><use href="#B" x="317.7" y="1032.1"/><use href="#G" x="383.5" y="1091.1"/><use href="#G" x="456.3" y="1081.5"/><use href="#B" x="157.5" y="1126.0"/><use href="#B" x="241.0" y="1143.8"/><use href="#G" x="408.8" y="1156.3"/><use href="#G" x="492.5" y="1158.1"/><use href="#C" x="57.5" y="901.0"/><use href="#C" x="120.0" y="952.0"/><use href="#C" x="226.0" y="968.5"/><use href="#C" x="323.5" y="950.0"/><use href="#C" x="424.0" y="946.0"/><use href="#C" x="502.5" y="932.0"/><use href="#C" x="167.7" y="1022.3"/><use href="#C" x="242.8" y="1066.6"/><use href="#D" x="325.0" y="1122.3"/><use href="#D" x="173.4" y="1215.2"/><use href="#D" x="271.5" y="1228.2"/><use href="#D" x="349.6" y="1215.5"/><use href="#D" x="527.5" y="1212.4"/><path d="M135.4 863.6C140.5 863.5 154.6 863.6 166.1 863.0C177.6 862.4 192.9 861.0 204.4 859.7C215.9 858.4 224.4 856.9 235.1 855.4C245.8 853.9 257.5 852.6 268.3 850.8C279.1 849.0 289.7 846.8 300.0 844.4C310.3 842.0 320.0 839.2 330.0 836.5C340.0 833.8 350.0 830.9 360.0 828.0C370.0 825.1 380.3 821.9 390.0 819.0C399.7 816.1 413.3 811.9 418.0 810.5" fill="none" stroke="#ff5a05" stroke-width="5.5" stroke-linecap="round" stroke-dasharray="12.4 17.3" stroke-dashoffset="0"/><path d="M283.5 1160.1C283.0 1157.1 280.7 1148.2 280.4 1142.2C280.1 1136.2 280.8 1129.0 281.7 1124.3C282.6 1119.6 283.7 1117.9 285.6 1114.1C287.5 1110.3 290.0 1105.3 293.2 1101.3C296.4 1097.2 300.0 1093.6 304.7 1089.8C309.4 1086.0 315.6 1081.5 321.3 1078.3C327.1 1075.1 333.0 1072.9 339.2 1070.7C345.4 1068.5 355.2 1066.0 358.4 1065.0" fill="none" stroke="#ff5a05" stroke-width="5.5" stroke-linecap="round" stroke-dasharray="12.4 16.6" stroke-dashoffset="0"/><path d="M142.6 1195.4C147.5 1194.6 162.0 1191.6 172.0 1190.3C182.0 1189.0 192.7 1187.9 202.7 1187.7C212.7 1187.5 222.3 1187.9 232.1 1189.0C241.9 1190.1 251.6 1191.6 261.4 1194.1C271.2 1196.6 284.5 1201.5 290.8 1203.8C297.1 1206.1 297.9 1207.0 299.3 1207.7" fill="none" stroke="#ff5a05" stroke-width="5.5" stroke-linecap="round" stroke-dasharray="12.9 17.8" stroke-dashoffset="9"/><path d="M303.5 1163.8L283.8 1172.2L292.8 1190.1M283.8 1172.2L308.9 1182.3" fill="none" stroke="#000" stroke-width="9.5" stroke-linecap="round" stroke-linejoin="round"/><g stroke="#f4f4f4" stroke-width="2.4" stroke-linecap="round"><path d="M336 1164.8H370M328 1170.4H346M319.5 1175.8H343M332 1181.5H364"/></g><g stroke="#a9b6dc" stroke-width="1.6"><path d="M318.5 1167.7H373M327 1184.4H355"/></g><text x="348.8" y="1175.8" font-size="8" fill="#111">brume</text><use href="#dr" transform="translate(224.6 1199.5) scale(1.12)"/></g><clipPath id="m4"><rect x="580" y="711.5" width="570" height="570"/></clipPath><g clip-path="url(#m4)"><use href="#fr" x="-5.8" y="654.5"/><use href="#G" x="885.4" y="733.4"/><use href="#G" x="999.5" y="739.1"/><use href="#G" x="840.5" y="802.3"/><use href="#G" x="951.5" y="807.5"/><use href="#B" x="1048.5" y="816.5"/><use href="#B" x="1138.5" y="846.8"/><use href="#B" x="754.5" y="846.0"/><use href="#B" x="857.4" y="875.5"/><use href="#B" x="965.5" y="883.0"/><use href="#B" x="1068.5" y="905.0"/><use href="#C" x="657.5" y="910.5"/><use href="#C" x="745.5" y="927.3"/><use href="#C" x="837.5" y="948.8"/><use href="#C" x="961.0" y="961.0"/><use href="#C" x="1101.0" y="985.0"/><use href="#C" x="1026.0" y="1012.0"/><use href="#C" x="747.8" y="1025.5"/><use href="#C" x="837.3" y="1017.5"/><use href="#C" x="932.5" y="1031.8"/><use href="#C" x="1074.5" y="1080.0"/><use href="#C" x="880.8" y="1088.3"/><use href="#C" x="990.0" y="1101.5"/><use href="#C" x="764.5" y="1097.0"/><use href="#C" x="829.8" y="1139.0"/><use href="#C" x="918.5" y="1159.5"/><use href="#C" x="1015.0" y="1177.5"/><use href="#C" x="1109.5" y="1157.5"/><use href="#C" x="1113.0" y="1247.0"/><use href="#F" x="752.0" y="1182.0"/><use href="#F" x="835.5" y="1206.8"/><use href="#F" x="916.0" y="1242.0"/><path d="M737.5 882.8C743.5 884.5 762.7 890.0 773.6 893.0C784.5 896.0 793.1 898.3 802.9 900.7C812.7 903.1 822.5 905.1 832.3 907.3C842.1 909.5 852.1 911.9 861.7 914.0C871.3 916.1 880.3 917.6 889.9 919.8C899.5 921.9 909.5 924.7 919.3 926.9C929.1 929.1 938.8 931.1 948.7 933.1C958.6 935.1 968.9 937.1 978.8 938.9C988.7 940.7 998.3 942.6 1008.2 944.1C1018.1 945.6 1028.2 946.7 1038.1 947.6C1048.0 948.5 1057.6 949.4 1067.5 949.7C1077.4 950.0 1091.2 949.5 1097.7 949.2C1104.2 948.9 1105.1 948.1 1106.6 947.9" fill="none" stroke="#ff5a05" stroke-width="5.5" stroke-linecap="round" stroke-dasharray="13.7 16.2" stroke-dashoffset="0"/><path d="M745.8 1151.7C748.6 1152.3 754.7 1153.3 762.4 1155.1C770.1 1156.9 782.2 1160.2 791.8 1162.7C801.4 1165.2 810.3 1167.7 819.9 1170.4C829.5 1173.1 839.7 1175.8 849.3 1178.8C858.9 1181.8 868.0 1184.5 877.4 1188.3C886.8 1192.1 896.6 1197.1 905.6 1201.8C914.6 1206.5 926.9 1214.0 931.1 1216.4" fill="none" stroke="#ff5a05" stroke-width="5.5" stroke-linecap="round" stroke-dasharray="13 17" stroke-dashoffset="0"/></g><g font-weight="700" font-size="37.3" fill="#000"><text x="167.0" y="37.8" textLength="331.4" lengthAdjust="spacingAndGlyphs">Mardi 8 avril 2025</text><text x="699.4" y="40.3" textLength="389.2" lengthAdjust="spacingAndGlyphs">Mercredi 9 avril 2025</text><text x="182.4" y="697.7" textLength="349.0" lengthAdjust="spacingAndGlyphs">Jeudi 10 avril 2025</text><text x="674.0" y="695.7" textLength="414.6" lengthAdjust="spacingAndGlyphs">Vendredi 11 avril 2025</text></g><g><rect x="0" y="1206" width="66" height="66" fill="#041d3f"/><path d="M29.7 1220.8A9.4 9.4 0 0 0 29.7 1239.6Z" fill="#e87722"/><path d="M30.9 1218.7A11.5 11.5 0 0 1 30.9 1241.7Z" fill="#e9edf5"/><g font-weight="700" fill="#f2f4f8"><text x="10.6" y="1255.2" font-size="11.3" textLength="41.4" lengthAdjust="spacingAndGlyphs">METEO-</text><text x="10.6" y="1263.4" font-size="7.1" textLength="41.4" lengthAdjust="spacingAndGlyphs">VILLES.COM</text></g></g></svg></body></html>
